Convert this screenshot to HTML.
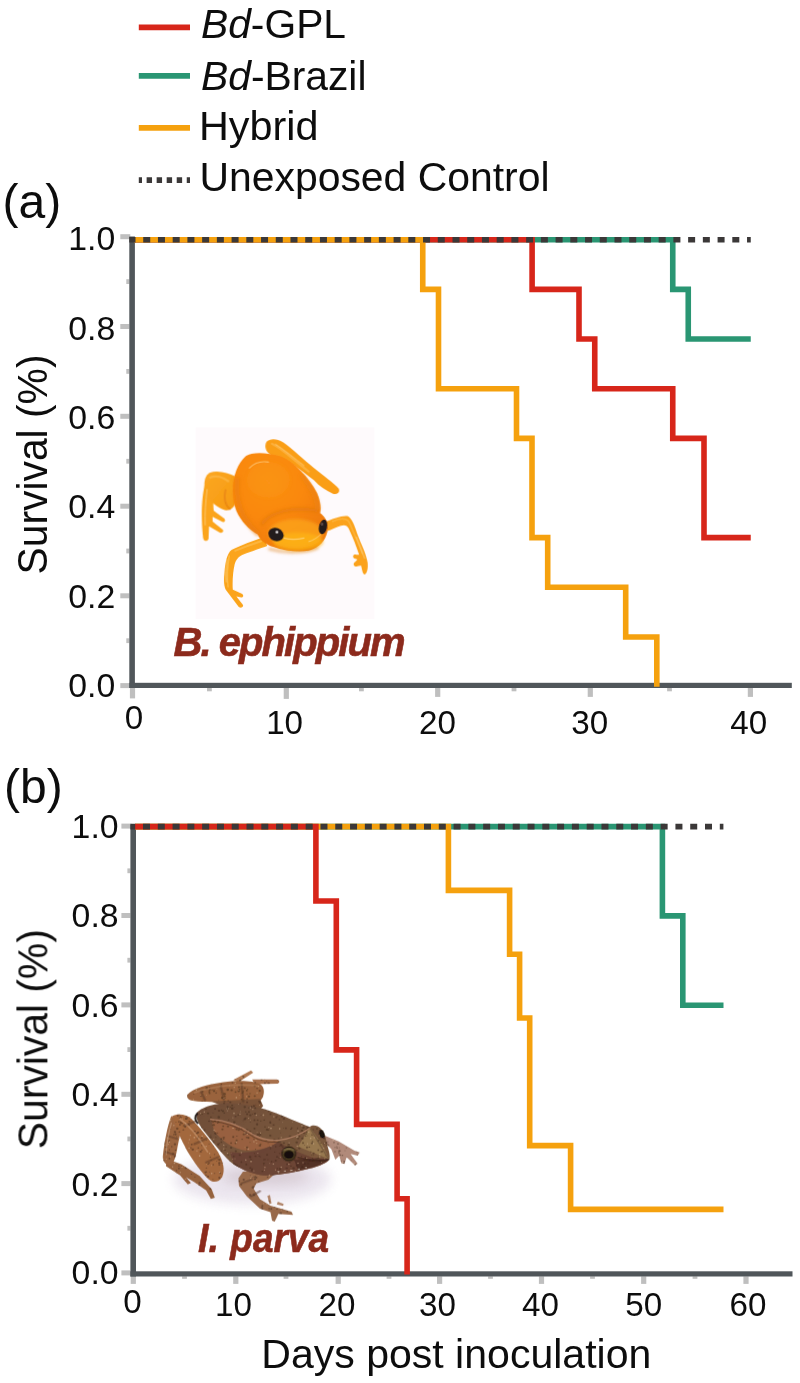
<!DOCTYPE html>
<html><head><meta charset="utf-8"><title>Survival curves</title>
<style>html,body{margin:0;padding:0;background:#fff}svg{display:block}text{font-family:"Liberation Sans",sans-serif;fill:#0d0d0d}</style></head><body>
<svg width="800" height="1383" viewBox="0 0 800 1383">
<rect width="800" height="1383" fill="#fff"/>
<g style="opacity:0.999">
<defs>
<radialGradient id="f1body" cx="0.38" cy="0.30" r="0.75">
<stop offset="0" stop-color="#FB9012"/><stop offset="0.5" stop-color="#FA880E"/><stop offset="1" stop-color="#EE7A08"/>
</radialGradient>
<linearGradient id="f1leg" x1="0" y1="0" x2="1" y2="1">
<stop offset="0" stop-color="#FCA824"/><stop offset="1" stop-color="#F79A10"/>
</linearGradient>
<radialGradient id="f1head" cx="0.5" cy="0.45" r="0.6">
<stop offset="0" stop-color="#FDA52E"/><stop offset="1" stop-color="#F38A12"/>
</radialGradient>
<filter id="f1blur" x="-5%" y="-5%" width="110%" height="110%"><feGaussianBlur stdDeviation="2.2"/></filter>
<filter id="f1soft" x="-10%" y="-10%" width="120%" height="120%"><feGaussianBlur stdDeviation="7"/></filter>
<filter id="bgsoft" x="-5%" y="-5%" width="110%" height="110%"><feGaussianBlur stdDeviation="3"/></filter>
</defs>
<rect x="195.6" y="427.5" width="178.8" height="191.5" fill="#FEFAFC"/>
<g transform="translate(190,430) scale(0.2375)">
<g filter="url(#f1blur)">
<!-- hind right leg -->
<path d="M322 50 C336 34 368 36 392 52 C430 78 480 128 522 160 C560 190 605 224 626 246 C634 262 618 274 602 268 C572 254 545 238 522 212 C495 192 465 168 435 148 C405 128 378 116 348 108 C322 100 310 70 322 50 Z" fill="#FA9E18"/>
<path d="M345 58 C385 75 440 130 500 175" fill="none" stroke="#FDB84A" stroke-width="9" stroke-linecap="round" opacity="0.7"/>
<!-- hind left leg: lower -->
<path d="M62 230 C50 280 45 360 55 455 C58 472 78 470 78 455 L80 405 L125 432 C140 436 145 422 133 416 L95 385 L95 365 L138 388 C150 388 150 375 140 370 L100 340 C95 310 100 280 110 255 Z" fill="#FBA41A"/>
<!-- thigh -->
<path d="M190 195 C160 180 115 168 82 180 C58 195 55 235 68 268 C82 300 115 330 150 338 C175 340 190 320 195 295 Z" fill="url(#f1leg)"/>
<path d="M85 200 C110 190 140 200 160 215" fill="none" stroke="#FDBC50" stroke-width="10" stroke-linecap="round" opacity="0.6"/>
<path d="M150 250 C140 290 150 320 170 335" fill="none" stroke="#E47E10" stroke-width="8" opacity="0.6"/>
<!-- front left arm -->
<path d="M310 450 C270 465 215 485 175 505 C155 520 148 560 145 600 C142 630 142 655 150 672 L205 745 C215 752 228 745 222 735 L195 700 L215 705 C228 705 226 692 215 688 L180 672 C178 640 180 600 188 565 C195 540 210 530 230 522 C260 510 300 498 325 488 Z" fill="#FBA41A"/>
<path d="M165 530 C158 570 155 620 160 660" fill="none" stroke="#FDC050" stroke-width="7" stroke-linecap="round" opacity="0.7"/>
<path d="M190 508 C230 492 270 478 300 468" fill="none" stroke="#FDBE50" stroke-width="8" stroke-linecap="round" opacity="0.7"/>
<!-- front right arm -->
<path d="M572 385 C600 375 635 360 662 362 C680 368 692 400 705 440 C720 480 742 520 748 560 C750 585 745 605 735 608 C725 605 725 585 720 570 L700 575 C688 575 685 562 695 556 L705 545 L690 540 C682 530 690 522 700 525 L712 525 C700 490 685 450 668 415 C660 400 650 398 635 403 C615 410 595 420 578 425 Z" fill="#FBA21A"/>
<path d="M600 385 C630 372 655 370 668 385 C685 420 705 470 725 520" fill="none" stroke="#FDBB4A" stroke-width="7" stroke-linecap="round" opacity="0.65"/>
<!-- body -->
<path d="M235 110 C260 92 320 92 385 112 C440 135 500 200 535 265 C550 300 552 330 548 350 C570 365 585 395 578 430 C570 465 545 495 500 508 C460 515 400 510 350 492 C320 482 295 465 285 440 C250 420 215 385 195 340 C175 290 175 220 195 170 C205 145 218 125 235 110 Z" fill="url(#f1body)"/>
</g>
<!-- body shading -->
<g filter="url(#f1soft)">
<path d="M200 200 C190 280 210 370 290 440" fill="none" stroke="#E77E10" stroke-width="22" opacity="0.55"/>
<path d="M300 400 C330 350 420 320 540 340" fill="none" stroke="#DE760E" stroke-width="16" opacity="0.55"/>
<path d="M470 190 C510 240 535 290 540 335" fill="none" stroke="#E98414" stroke-width="20" opacity="0.5"/>
<ellipse cx="330" cy="210" rx="90" ry="75" fill="#FC9A22" opacity="0.3"/>
<ellipse cx="445" cy="435" rx="115" ry="60" fill="#FCA61E" opacity="0.75"/>
<ellipse cx="455" cy="470" rx="105" ry="38" fill="#FDB416" opacity="0.75"/>
<path d="M330 500 C400 520 480 520 540 495" fill="none" stroke="#D97410" stroke-width="10" opacity="0.5"/>
</g>
<g filter="url(#f1blur)" fill="none" stroke="#FFE9B8" stroke-linecap="round" opacity="0.55">
<path d="M250 160 C270 140 300 130 330 135" stroke-width="5"/>
<path d="M395 455 C420 462 450 462 480 455" stroke-width="5"/>
<path d="M155 545 C152 580 150 610 153 640" stroke-width="4"/>
<path d="M700 450 C712 480 725 510 735 540" stroke-width="4"/>
<path d="M72 250 C66 300 62 350 64 400" stroke-width="4"/>
<path d="M360 60 C400 85 440 120 480 150" stroke-width="4"/>
<path d="M500 470 C520 465 540 450 550 440" stroke-width="4"/>
</g>
<!-- eyes -->
<g filter="url(#f1blur)">
<ellipse cx="362" cy="440" rx="33" ry="27" transform="rotate(22 362 440)" fill="#231A1C"/>
<ellipse cx="560" cy="408" rx="17" ry="31" transform="rotate(12 560 408)" fill="#231A1C"/>
<ellipse cx="366" cy="430" rx="6" ry="6" fill="#ffffff" opacity="0.85"/>
<ellipse cx="556" cy="396" rx="5" ry="7" fill="#6b5a55" opacity="0.8"/>
</g>
</g>
<defs>
<filter id="f2blur" x="-5%" y="-5%" width="110%" height="110%"><feGaussianBlur stdDeviation="1.8"/></filter>
<filter id="f2b1" x="-5%" y="-5%" width="110%" height="110%"><feGaussianBlur stdDeviation="1.3"/></filter>
<filter id="f2shadow" x="-20%" y="-40%" width="140%" height="180%"><feGaussianBlur stdDeviation="22"/></filter>
<linearGradient id="f2dors" x1="0" y1="0" x2="1" y2="1"><stop offset="0" stop-color="#6F4D38"/><stop offset="1" stop-color="#7E5C3E"/></linearGradient>
<clipPath id="f2clip">
<path d="M640 285 L700 310 L760 345 L780 352 L772 364 L745 358 L772 395 L762 402 L730 370 L722 396 L710 393 L702 364 L687 380 L672 340 L645 312 Z"/>
<path d="M298 76 L366 40 L374 48 L318 84 Z"/>
<path d="M370 74 L462 74 C476 74 478 90 464 90 L380 92 Z"/>
<path d="M125 130 C140 110 200 92 260 84 C320 76 375 78 402 92 C420 105 418 135 404 152 C385 168 335 168 280 162 C220 160 165 160 138 154 C122 148 120 138 125 130 Z"/>
<path d="M42 376 L100 397 L170 442 L216 492 L228 524 L213 529 L195 497 L150 465 L118 446 L137 468 L125 474 L96 440 L42 404 Z"/>
<path d="M62 213 C48 250 36 310 30 365 C28 385 40 400 58 400 C72 394 80 370 86 330 C92 300 98 275 104 252 Z"/>
<path d="M65 215 C85 202 120 206 140 225 C170 255 210 305 240 350 C260 385 268 420 256 445 C245 465 222 470 205 455 C180 432 150 392 122 345 C100 305 80 260 65 215 Z"/>
<path d="M335 425 L400 418 L452 438 L432 456 L386 470 L376 490 L400 530 L440 555 L520 578 L526 590 L470 586 L456 616 L446 612 L440 580 L400 566 L350 520 L320 480 L318 450 Z"/>
<path d="M428 518 L436 548 L444 546 L438 514 Z M468 540 L490 548 L488 556 L464 550 Z"/>
<path d="M215 158 L400 148 L412 175 L400 190 L250 172 Z"/>
<path d="M160 200 C175 182 215 168 260 165 C320 162 385 175 440 195 C490 212 545 238 590 255 C600 246 618 248 632 262 C646 276 652 300 658 330 C664 350 668 368 664 378 C655 395 615 408 570 418 C520 430 465 440 420 440 C380 438 335 420 300 398 C265 370 230 325 198 285 C175 258 150 225 160 200 Z"/>
</clipPath></defs>
<g transform="translate(155,1060) scale(0.2625)">
<ellipse cx="370" cy="455" rx="300" ry="95" fill="#E6DFEA" opacity="0.8" filter="url(#f2shadow)"/>
<ellipse cx="420" cy="445" rx="170" ry="30" fill="#C9BAC2" opacity="0.6" filter="url(#f2shadow)"/>
<g filter="url(#f2b1)">
<path d="M640 285 L700 310 L760 345 L780 352 L772 364 L745 358 L772 395 L762 402 L730 370 L722 396 L710 393 L702 364 L687 380 L672 340 L645 312 Z" fill="#B18A7A"/>
<path d="M298 76 L366 40 L374 48 L318 84 Z" fill="#B07A52"/>
<path d="M370 74 L462 74 C476 74 478 90 464 90 L380 92 Z" fill="#A8704C"/>
<path d="M125 130 C140 110 200 92 260 84 C320 76 375 78 402 92 C420 105 418 135 404 152 C385 168 335 168 280 162 C220 160 165 160 138 154 C122 148 120 138 125 130 Z" fill="#9A643C"/>
<path d="M42 376 L100 397 L170 442 L216 492 L228 524 L213 529 L195 497 L150 465 L118 446 L137 468 L125 474 L96 440 L42 404 Z" fill="#96623E"/>
<path d="M62 213 C48 250 36 310 30 365 C28 385 40 400 58 400 C72 394 80 370 86 330 C92 300 98 275 104 252 Z" fill="#9C6640"/>
<path d="M65 215 C85 202 120 206 140 225 C170 255 210 305 240 350 C260 385 268 420 256 445 C245 465 222 470 205 455 C180 432 150 392 122 345 C100 305 80 260 65 215 Z" fill="#A3683E"/>
<path d="M335 425 L400 418 L452 438 L432 456 L386 470 L376 490 L400 530 L440 555 L520 578 L526 590 L470 586 L456 616 L446 612 L440 580 L400 566 L350 520 L320 480 L318 450 Z" fill="#98694A"/>
<path d="M428 518 L436 548 L444 546 L438 514 Z M468 540 L490 548 L488 556 L464 550 Z" fill="#B08468"/>
<path d="M215 158 L400 148 L412 175 L400 190 L250 172 Z" fill="#7A5238"/>
<path d="M160 200 C175 182 215 168 260 165 C320 162 385 175 440 195 C490 212 545 238 590 255 C600 246 618 248 632 262 C646 276 652 300 658 330 C664 350 668 368 664 378 C655 395 615 408 570 418 C520 430 465 440 420 440 C380 438 335 420 300 398 C265 370 230 325 198 285 C175 258 150 225 160 200 Z" fill="url(#f2dors)"/>
<path d="M215 228 C260 230 320 245 375 285 C400 300 430 308 470 308 C450 330 400 345 350 345 C300 340 255 310 225 270 Z" fill="#9C6340" opacity="0.9"/>
<path d="M285 350 C340 360 420 345 470 312 C500 330 540 350 600 372 L664 378 C655 395 615 408 570 418 C520 430 465 440 420 440 C380 438 335 420 300 398 Z" fill="#6A4234" opacity="0.92"/>
<path d="M530 380 C570 375 620 378 660 380 C640 400 590 412 545 420 Z" fill="#4E2C22" opacity="0.8"/>
<path d="M590 256 L636 320 L664 378 L600 352 L545 330 Z" fill="#97784F"/>
<g clip-path="url(#f2clip)">
<g fill="#3E281A" opacity="0.5"><ellipse cx="497" cy="470" rx="4.4" ry="4.3"/><ellipse cx="585" cy="575" rx="2.1" ry="1.6"/><ellipse cx="738" cy="416" rx="4.7" ry="3.0"/><ellipse cx="382" cy="183" rx="3.6" ry="3.0"/><ellipse cx="40" cy="166" rx="2.8" ry="2.7"/><ellipse cx="604" cy="133" rx="4.4" ry="2.9"/><ellipse cx="493" cy="113" rx="2.0" ry="1.9"/><ellipse cx="187" cy="165" rx="4.9" ry="4.7"/><ellipse cx="247" cy="598" rx="3.6" ry="3.2"/><ellipse cx="184" cy="586" rx="4.1" ry="4.0"/><ellipse cx="700" cy="213" rx="3.1" ry="2.1"/><ellipse cx="139" cy="78" rx="2.9" ry="2.4"/><ellipse cx="33" cy="433" rx="3.0" ry="2.2"/><ellipse cx="644" cy="319" rx="2.9" ry="2.3"/><ellipse cx="559" cy="73" rx="4.9" ry="3.0"/><ellipse cx="592" cy="530" rx="2.1" ry="1.9"/><ellipse cx="305" cy="376" rx="2.0" ry="1.3"/><ellipse cx="166" cy="594" rx="2.6" ry="2.3"/><ellipse cx="727" cy="586" rx="3.0" ry="2.3"/><ellipse cx="424" cy="490" rx="2.3" ry="2.1"/><ellipse cx="628" cy="539" rx="2.1" ry="2.1"/><ellipse cx="98" cy="238" rx="3.8" ry="3.7"/><ellipse cx="285" cy="576" rx="3.6" ry="2.6"/><ellipse cx="268" cy="143" rx="2.2" ry="1.5"/><ellipse cx="547" cy="618" rx="2.5" ry="1.5"/><ellipse cx="770" cy="349" rx="3.2" ry="2.2"/><ellipse cx="475" cy="519" rx="3.4" ry="2.6"/><ellipse cx="72" cy="571" rx="2.1" ry="1.7"/><ellipse cx="659" cy="116" rx="4.2" ry="4.1"/><ellipse cx="503" cy="497" rx="2.3" ry="1.8"/><ellipse cx="142" cy="530" rx="2.9" ry="2.3"/><ellipse cx="779" cy="534" rx="4.9" ry="3.9"/><ellipse cx="396" cy="463" rx="3.4" ry="2.5"/><ellipse cx="333" cy="125" rx="3.1" ry="3.1"/><ellipse cx="750" cy="404" rx="3.5" ry="2.6"/><ellipse cx="97" cy="198" rx="4.3" ry="4.1"/><ellipse cx="301" cy="496" rx="4.3" ry="3.8"/><ellipse cx="528" cy="481" rx="3.1" ry="2.7"/><ellipse cx="241" cy="322" rx="4.3" ry="3.8"/><ellipse cx="250" cy="588" rx="3.9" ry="3.3"/><ellipse cx="39" cy="357" rx="2.8" ry="2.4"/><ellipse cx="377" cy="514" rx="3.9" ry="3.6"/><ellipse cx="291" cy="414" rx="4.2" ry="3.9"/><ellipse cx="293" cy="529" rx="4.6" ry="4.0"/><ellipse cx="762" cy="595" rx="3.6" ry="2.9"/><ellipse cx="155" cy="525" rx="4.8" ry="3.8"/><ellipse cx="549" cy="457" rx="4.2" ry="2.8"/><ellipse cx="615" cy="377" rx="4.0" ry="3.1"/><ellipse cx="498" cy="489" rx="3.9" ry="3.5"/><ellipse cx="51" cy="133" rx="3.3" ry="2.9"/><ellipse cx="194" cy="438" rx="3.9" ry="2.4"/><ellipse cx="384" cy="171" rx="2.2" ry="1.4"/><ellipse cx="268" cy="145" rx="2.6" ry="1.6"/><ellipse cx="379" cy="261" rx="3.8" ry="3.2"/><ellipse cx="208" cy="564" rx="2.0" ry="1.5"/><ellipse cx="239" cy="278" rx="2.3" ry="2.2"/><ellipse cx="310" cy="61" rx="3.8" ry="2.5"/><ellipse cx="439" cy="237" rx="3.7" ry="3.7"/><ellipse cx="644" cy="283" rx="4.4" ry="3.8"/><ellipse cx="307" cy="122" rx="3.8" ry="3.1"/><ellipse cx="748" cy="601" rx="3.8" ry="2.8"/><ellipse cx="700" cy="41" rx="2.3" ry="1.9"/><ellipse cx="491" cy="122" rx="3.9" ry="3.7"/><ellipse cx="312" cy="290" rx="2.7" ry="1.9"/><ellipse cx="759" cy="260" rx="4.9" ry="4.7"/><ellipse cx="477" cy="191" rx="4.9" ry="3.9"/><ellipse cx="342" cy="225" rx="5.0" ry="3.9"/><ellipse cx="245" cy="317" rx="2.4" ry="2.0"/><ellipse cx="363" cy="210" rx="4.3" ry="4.0"/><ellipse cx="40" cy="349" rx="2.8" ry="2.7"/><ellipse cx="616" cy="182" rx="2.8" ry="1.9"/><ellipse cx="772" cy="210" rx="3.8" ry="3.0"/><ellipse cx="514" cy="390" rx="4.2" ry="2.7"/><ellipse cx="600" cy="214" rx="3.6" ry="2.6"/><ellipse cx="253" cy="347" rx="3.4" ry="2.5"/><ellipse cx="589" cy="383" rx="2.1" ry="1.5"/><ellipse cx="372" cy="572" rx="4.7" ry="3.8"/><ellipse cx="41" cy="491" rx="3.3" ry="2.7"/><ellipse cx="561" cy="407" rx="3.4" ry="3.3"/><ellipse cx="319" cy="267" rx="4.6" ry="3.1"/><ellipse cx="252" cy="521" rx="2.2" ry="2.1"/><ellipse cx="551" cy="291" rx="2.9" ry="2.6"/><ellipse cx="713" cy="123" rx="3.4" ry="2.8"/><ellipse cx="403" cy="232" rx="2.5" ry="2.1"/><ellipse cx="639" cy="80" rx="2.7" ry="2.5"/><ellipse cx="624" cy="425" rx="2.1" ry="1.8"/><ellipse cx="764" cy="619" rx="4.1" ry="2.5"/><ellipse cx="662" cy="167" rx="3.9" ry="3.9"/><ellipse cx="564" cy="118" rx="2.9" ry="2.8"/><ellipse cx="142" cy="394" rx="3.2" ry="2.2"/><ellipse cx="497" cy="65" rx="2.3" ry="1.7"/><ellipse cx="84" cy="73" rx="3.7" ry="3.3"/><ellipse cx="689" cy="118" rx="3.3" ry="2.4"/><ellipse cx="480" cy="324" rx="4.8" ry="3.6"/><ellipse cx="72" cy="444" rx="2.5" ry="2.1"/><ellipse cx="409" cy="568" rx="3.7" ry="3.1"/><ellipse cx="227" cy="360" rx="2.8" ry="2.5"/><ellipse cx="418" cy="118" rx="2.7" ry="2.0"/><ellipse cx="583" cy="144" rx="4.1" ry="3.6"/><ellipse cx="94" cy="427" rx="2.3" ry="1.5"/><ellipse cx="475" cy="178" rx="4.6" ry="3.7"/><ellipse cx="272" cy="502" rx="2.1" ry="1.9"/><ellipse cx="70" cy="127" rx="4.9" ry="4.2"/><ellipse cx="197" cy="107" rx="4.9" ry="4.3"/><ellipse cx="645" cy="121" rx="3.9" ry="2.9"/><ellipse cx="206" cy="233" rx="3.8" ry="2.8"/><ellipse cx="319" cy="119" rx="4.5" ry="3.9"/><ellipse cx="633" cy="291" rx="4.6" ry="3.7"/><ellipse cx="474" cy="372" rx="4.2" ry="3.2"/><ellipse cx="103" cy="59" rx="2.6" ry="1.6"/><ellipse cx="697" cy="319" rx="4.3" ry="2.6"/><ellipse cx="383" cy="556" rx="3.9" ry="3.0"/><ellipse cx="379" cy="98" rx="2.5" ry="1.6"/><ellipse cx="311" cy="264" rx="4.6" ry="3.1"/><ellipse cx="221" cy="201" rx="2.5" ry="1.8"/><ellipse cx="206" cy="320" rx="2.1" ry="2.0"/><ellipse cx="307" cy="584" rx="4.1" ry="3.5"/><ellipse cx="384" cy="588" rx="2.4" ry="2.0"/><ellipse cx="248" cy="431" rx="4.2" ry="2.8"/><ellipse cx="181" cy="54" rx="2.7" ry="1.7"/><ellipse cx="331" cy="605" rx="3.1" ry="2.2"/><ellipse cx="381" cy="204" rx="4.2" ry="3.7"/><ellipse cx="153" cy="180" rx="4.0" ry="3.9"/><ellipse cx="514" cy="290" rx="4.9" ry="3.0"/><ellipse cx="76" cy="492" rx="3.2" ry="2.0"/><ellipse cx="441" cy="614" rx="3.6" ry="2.6"/><ellipse cx="100" cy="81" rx="4.7" ry="3.7"/><ellipse cx="732" cy="71" rx="2.7" ry="1.7"/><ellipse cx="328" cy="75" rx="2.8" ry="2.1"/><ellipse cx="259" cy="70" rx="2.1" ry="2.1"/><ellipse cx="165" cy="335" rx="3.2" ry="2.6"/><ellipse cx="93" cy="222" rx="2.3" ry="1.9"/><ellipse cx="721" cy="387" rx="4.6" ry="3.1"/><ellipse cx="43" cy="353" rx="3.5" ry="2.9"/><ellipse cx="312" cy="403" rx="4.2" ry="4.0"/><ellipse cx="261" cy="300" rx="4.5" ry="3.1"/><ellipse cx="117" cy="221" rx="2.3" ry="2.1"/><ellipse cx="645" cy="221" rx="2.4" ry="1.5"/><ellipse cx="214" cy="89" rx="3.3" ry="2.7"/><ellipse cx="214" cy="76" rx="4.1" ry="2.5"/><ellipse cx="180" cy="206" rx="3.1" ry="2.0"/><ellipse cx="345" cy="222" rx="4.3" ry="3.5"/><ellipse cx="702" cy="419" rx="4.3" ry="3.6"/><ellipse cx="362" cy="514" rx="4.0" ry="3.9"/><ellipse cx="576" cy="447" rx="2.8" ry="2.6"/><ellipse cx="317" cy="116" rx="2.2" ry="1.5"/><ellipse cx="227" cy="432" rx="2.9" ry="1.8"/><ellipse cx="603" cy="363" rx="2.1" ry="1.3"/><ellipse cx="128" cy="247" rx="4.6" ry="4.5"/><ellipse cx="489" cy="174" rx="3.3" ry="2.4"/><ellipse cx="278" cy="47" rx="3.8" ry="3.5"/><ellipse cx="575" cy="95" rx="3.6" ry="2.4"/><ellipse cx="562" cy="299" rx="4.8" ry="4.4"/><ellipse cx="119" cy="224" rx="4.7" ry="3.7"/><ellipse cx="356" cy="296" rx="4.3" ry="4.2"/><ellipse cx="429" cy="602" rx="3.8" ry="2.4"/><ellipse cx="641" cy="283" rx="2.2" ry="2.1"/><ellipse cx="55" cy="375" rx="3.4" ry="3.3"/><ellipse cx="325" cy="165" rx="2.8" ry="1.9"/><ellipse cx="452" cy="247" rx="4.3" ry="3.0"/><ellipse cx="294" cy="184" rx="4.9" ry="4.6"/><ellipse cx="667" cy="399" rx="3.2" ry="2.1"/><ellipse cx="654" cy="324" rx="2.1" ry="1.4"/><ellipse cx="104" cy="456" rx="4.7" ry="3.2"/><ellipse cx="628" cy="228" rx="4.0" ry="3.8"/><ellipse cx="497" cy="504" rx="3.1" ry="1.9"/><ellipse cx="414" cy="380" rx="2.6" ry="1.9"/><ellipse cx="268" cy="56" rx="2.9" ry="2.2"/><ellipse cx="387" cy="448" rx="3.2" ry="3.2"/><ellipse cx="642" cy="576" rx="4.1" ry="3.5"/><ellipse cx="433" cy="503" rx="3.1" ry="2.6"/><ellipse cx="540" cy="343" rx="2.9" ry="1.8"/><ellipse cx="95" cy="246" rx="3.7" ry="3.4"/><ellipse cx="566" cy="218" rx="4.8" ry="3.4"/><ellipse cx="567" cy="82" rx="4.3" ry="3.7"/><ellipse cx="748" cy="560" rx="4.1" ry="3.8"/><ellipse cx="584" cy="394" rx="2.6" ry="2.1"/><ellipse cx="702" cy="179" rx="4.9" ry="4.0"/><ellipse cx="325" cy="42" rx="3.2" ry="2.1"/><ellipse cx="520" cy="562" rx="4.7" ry="4.0"/><ellipse cx="320" cy="103" rx="4.1" ry="3.3"/><ellipse cx="566" cy="257" rx="4.7" ry="3.2"/><ellipse cx="259" cy="195" rx="3.9" ry="3.7"/><ellipse cx="156" cy="407" rx="4.3" ry="3.0"/><ellipse cx="77" cy="368" rx="4.5" ry="4.3"/><ellipse cx="576" cy="282" rx="3.3" ry="2.7"/><ellipse cx="709" cy="215" rx="2.8" ry="2.4"/><ellipse cx="755" cy="149" rx="2.1" ry="1.4"/><ellipse cx="452" cy="390" rx="2.6" ry="1.7"/><ellipse cx="476" cy="415" rx="4.1" ry="3.6"/><ellipse cx="76" cy="321" rx="4.5" ry="4.4"/><ellipse cx="269" cy="533" rx="3.9" ry="3.8"/><ellipse cx="202" cy="444" rx="4.5" ry="3.6"/><ellipse cx="106" cy="152" rx="2.5" ry="1.6"/><ellipse cx="144" cy="397" rx="2.3" ry="2.1"/><ellipse cx="582" cy="513" rx="4.4" ry="3.9"/><ellipse cx="723" cy="595" rx="3.9" ry="3.8"/><ellipse cx="107" cy="100" rx="2.2" ry="1.5"/><ellipse cx="311" cy="306" rx="4.0" ry="3.6"/><ellipse cx="93" cy="274" rx="3.6" ry="2.7"/><ellipse cx="118" cy="386" rx="3.1" ry="2.7"/><ellipse cx="402" cy="598" rx="4.8" ry="3.0"/><ellipse cx="600" cy="458" rx="2.9" ry="1.9"/><ellipse cx="389" cy="245" rx="4.2" ry="4.1"/><ellipse cx="317" cy="209" rx="3.5" ry="3.1"/><ellipse cx="622" cy="374" rx="2.9" ry="2.1"/><ellipse cx="666" cy="341" rx="2.2" ry="1.7"/><ellipse cx="208" cy="426" rx="2.2" ry="1.6"/><ellipse cx="102" cy="317" rx="5.0" ry="4.0"/><ellipse cx="320" cy="582" rx="2.3" ry="1.7"/><ellipse cx="638" cy="43" rx="4.3" ry="3.2"/><ellipse cx="42" cy="185" rx="3.4" ry="2.5"/><ellipse cx="418" cy="71" rx="2.7" ry="2.6"/><ellipse cx="362" cy="314" rx="2.3" ry="1.6"/><ellipse cx="746" cy="438" rx="3.5" ry="2.2"/><ellipse cx="325" cy="491" rx="3.3" ry="2.8"/><ellipse cx="707" cy="414" rx="3.9" ry="2.4"/><ellipse cx="48" cy="486" rx="3.2" ry="3.1"/><ellipse cx="649" cy="571" rx="3.1" ry="3.1"/><ellipse cx="597" cy="557" rx="2.4" ry="2.2"/><ellipse cx="347" cy="604" rx="5.0" ry="3.4"/><ellipse cx="346" cy="197" rx="3.4" ry="2.4"/><ellipse cx="530" cy="112" rx="2.5" ry="2.0"/><ellipse cx="85" cy="261" rx="4.7" ry="4.5"/><ellipse cx="177" cy="51" rx="4.5" ry="4.4"/><ellipse cx="479" cy="119" rx="2.7" ry="2.6"/><ellipse cx="733" cy="58" rx="2.6" ry="2.0"/><ellipse cx="230" cy="477" rx="3.1" ry="2.8"/><ellipse cx="144" cy="341" rx="4.9" ry="4.3"/><ellipse cx="98" cy="104" rx="3.9" ry="2.9"/><ellipse cx="307" cy="317" rx="3.7" ry="3.7"/><ellipse cx="211" cy="370" rx="2.8" ry="2.3"/><ellipse cx="579" cy="117" rx="3.4" ry="3.0"/><ellipse cx="36" cy="487" rx="3.3" ry="2.6"/><ellipse cx="488" cy="500" rx="2.2" ry="1.7"/><ellipse cx="59" cy="264" rx="3.0" ry="1.8"/><ellipse cx="253" cy="301" rx="4.0" ry="3.8"/><ellipse cx="308" cy="347" rx="4.1" ry="4.0"/><ellipse cx="742" cy="613" rx="2.9" ry="1.9"/><ellipse cx="729" cy="85" rx="3.3" ry="3.0"/><ellipse cx="427" cy="265" rx="4.8" ry="3.4"/><ellipse cx="444" cy="521" rx="2.4" ry="1.8"/><ellipse cx="401" cy="368" rx="2.6" ry="2.0"/><ellipse cx="75" cy="91" rx="3.0" ry="2.0"/><ellipse cx="756" cy="193" rx="2.8" ry="2.6"/><ellipse cx="586" cy="192" rx="4.5" ry="3.8"/><ellipse cx="321" cy="405" rx="2.7" ry="1.9"/><ellipse cx="687" cy="294" rx="4.7" ry="3.1"/><ellipse cx="133" cy="70" rx="4.2" ry="3.5"/><ellipse cx="37" cy="65" rx="4.5" ry="3.6"/><ellipse cx="683" cy="63" rx="3.8" ry="2.4"/><ellipse cx="571" cy="395" rx="3.8" ry="2.6"/><ellipse cx="742" cy="104" rx="2.2" ry="1.9"/><ellipse cx="100" cy="79" rx="3.4" ry="2.9"/><ellipse cx="699" cy="458" rx="2.2" ry="1.9"/><ellipse cx="663" cy="110" rx="4.3" ry="3.0"/><ellipse cx="254" cy="41" rx="4.3" ry="3.4"/><ellipse cx="706" cy="310" rx="2.5" ry="1.7"/><ellipse cx="228" cy="589" rx="2.6" ry="1.7"/><ellipse cx="295" cy="86" rx="3.3" ry="2.8"/><ellipse cx="518" cy="141" rx="2.4" ry="1.9"/><ellipse cx="545" cy="299" rx="3.7" ry="3.6"/><ellipse cx="139" cy="195" rx="3.5" ry="2.8"/><ellipse cx="705" cy="362" rx="4.0" ry="3.1"/><ellipse cx="618" cy="525" rx="2.9" ry="1.9"/><ellipse cx="224" cy="247" rx="4.7" ry="3.3"/><ellipse cx="502" cy="412" rx="4.9" ry="3.1"/><ellipse cx="607" cy="235" rx="2.3" ry="2.0"/><ellipse cx="663" cy="378" rx="2.1" ry="2.1"/><ellipse cx="318" cy="409" rx="4.2" ry="2.9"/><ellipse cx="336" cy="231" rx="2.3" ry="1.4"/><ellipse cx="568" cy="278" rx="4.6" ry="2.9"/><ellipse cx="256" cy="144" rx="4.8" ry="4.4"/><ellipse cx="702" cy="334" rx="2.3" ry="1.8"/><ellipse cx="200" cy="56" rx="3.7" ry="2.6"/><ellipse cx="111" cy="337" rx="4.8" ry="4.7"/><ellipse cx="380" cy="100" rx="4.3" ry="2.8"/><ellipse cx="433" cy="89" rx="5.0" ry="4.1"/><ellipse cx="358" cy="198" rx="3.7" ry="3.6"/><ellipse cx="351" cy="161" rx="3.5" ry="3.4"/><ellipse cx="316" cy="408" rx="4.8" ry="3.5"/><ellipse cx="638" cy="347" rx="2.4" ry="1.5"/><ellipse cx="734" cy="310" rx="3.3" ry="3.2"/><ellipse cx="460" cy="330" rx="2.9" ry="2.6"/><ellipse cx="222" cy="313" rx="4.3" ry="3.6"/><ellipse cx="131" cy="158" rx="4.1" ry="3.6"/><ellipse cx="107" cy="619" rx="2.4" ry="1.6"/><ellipse cx="97" cy="299" rx="3.9" ry="3.6"/><ellipse cx="152" cy="445" rx="2.3" ry="1.9"/><ellipse cx="219" cy="247" rx="2.2" ry="1.9"/><ellipse cx="122" cy="483" rx="3.0" ry="2.5"/><ellipse cx="509" cy="323" rx="4.6" ry="4.5"/><ellipse cx="242" cy="234" rx="4.6" ry="3.0"/><ellipse cx="345" cy="280" rx="4.9" ry="3.2"/><ellipse cx="521" cy="479" rx="4.2" ry="2.5"/><ellipse cx="738" cy="221" rx="4.6" ry="3.9"/><ellipse cx="346" cy="526" rx="4.0" ry="3.0"/><ellipse cx="579" cy="333" rx="4.1" ry="3.5"/><ellipse cx="627" cy="132" rx="3.5" ry="2.1"/><ellipse cx="623" cy="487" rx="4.5" ry="2.8"/><ellipse cx="431" cy="318" rx="2.4" ry="1.6"/><ellipse cx="761" cy="535" rx="2.7" ry="2.5"/><ellipse cx="518" cy="263" rx="3.9" ry="2.7"/><ellipse cx="235" cy="46" rx="4.0" ry="3.3"/><ellipse cx="588" cy="332" rx="3.3" ry="2.4"/><ellipse cx="581" cy="256" rx="3.8" ry="3.4"/><ellipse cx="363" cy="438" rx="2.2" ry="1.5"/><ellipse cx="660" cy="126" rx="2.2" ry="1.3"/><ellipse cx="605" cy="102" rx="3.4" ry="2.6"/><ellipse cx="632" cy="316" rx="3.6" ry="2.2"/><ellipse cx="626" cy="485" rx="3.9" ry="3.6"/><ellipse cx="491" cy="455" rx="4.6" ry="3.9"/><ellipse cx="45" cy="553" rx="5.0" ry="3.4"/><ellipse cx="80" cy="237" rx="2.3" ry="1.7"/><ellipse cx="97" cy="168" rx="2.0" ry="1.6"/><ellipse cx="255" cy="463" rx="3.2" ry="2.1"/><ellipse cx="745" cy="559" rx="4.1" ry="2.8"/><ellipse cx="332" cy="302" rx="3.2" ry="2.0"/><ellipse cx="372" cy="485" rx="4.1" ry="3.9"/><ellipse cx="542" cy="482" rx="4.6" ry="4.5"/><ellipse cx="625" cy="281" rx="4.0" ry="3.4"/><ellipse cx="692" cy="454" rx="3.3" ry="2.3"/><ellipse cx="276" cy="185" rx="4.0" ry="3.7"/><ellipse cx="174" cy="349" rx="4.5" ry="3.4"/><ellipse cx="101" cy="391" rx="3.1" ry="2.0"/><ellipse cx="246" cy="44" rx="2.4" ry="1.9"/><ellipse cx="109" cy="43" rx="3.6" ry="3.6"/><ellipse cx="656" cy="229" rx="4.8" ry="3.0"/><ellipse cx="143" cy="44" rx="2.2" ry="1.8"/><ellipse cx="598" cy="317" rx="4.4" ry="3.4"/><ellipse cx="719" cy="393" rx="3.6" ry="2.4"/><ellipse cx="350" cy="295" rx="4.5" ry="3.1"/><ellipse cx="251" cy="514" rx="2.2" ry="1.8"/><ellipse cx="195" cy="426" rx="3.8" ry="2.4"/><ellipse cx="578" cy="276" rx="3.0" ry="2.8"/><ellipse cx="614" cy="220" rx="4.0" ry="2.6"/><ellipse cx="419" cy="88" rx="3.9" ry="3.8"/><ellipse cx="507" cy="64" rx="3.5" ry="2.8"/><ellipse cx="362" cy="128" rx="2.8" ry="2.2"/><ellipse cx="83" cy="431" rx="2.7" ry="2.0"/><ellipse cx="98" cy="216" rx="4.8" ry="3.4"/><ellipse cx="102" cy="241" rx="4.8" ry="3.1"/><ellipse cx="287" cy="161" rx="4.0" ry="3.2"/><ellipse cx="104" cy="540" rx="3.0" ry="2.6"/><ellipse cx="370" cy="546" rx="2.2" ry="1.5"/><ellipse cx="244" cy="193" rx="4.5" ry="3.6"/><ellipse cx="290" cy="334" rx="4.5" ry="3.8"/><ellipse cx="369" cy="421" rx="3.8" ry="2.9"/><ellipse cx="350" cy="116" rx="3.3" ry="3.2"/><ellipse cx="260" cy="252" rx="3.8" ry="3.2"/><ellipse cx="162" cy="299" rx="4.2" ry="2.6"/><ellipse cx="112" cy="478" rx="4.7" ry="3.0"/><ellipse cx="91" cy="403" rx="2.9" ry="2.5"/><ellipse cx="56" cy="305" rx="2.5" ry="1.8"/><ellipse cx="550" cy="336" rx="4.6" ry="4.3"/><ellipse cx="495" cy="532" rx="2.5" ry="2.0"/><ellipse cx="270" cy="402" rx="2.3" ry="2.2"/><ellipse cx="308" cy="495" rx="4.8" ry="4.7"/><ellipse cx="323" cy="537" rx="5.0" ry="3.3"/><ellipse cx="591" cy="462" rx="3.4" ry="2.4"/><ellipse cx="160" cy="279" rx="4.8" ry="3.6"/><ellipse cx="222" cy="399" rx="3.3" ry="2.8"/><ellipse cx="371" cy="206" rx="2.1" ry="2.0"/><ellipse cx="524" cy="181" rx="3.5" ry="2.9"/><ellipse cx="408" cy="563" rx="4.3" ry="3.1"/><ellipse cx="284" cy="395" rx="2.5" ry="2.4"/><ellipse cx="64" cy="330" rx="2.8" ry="2.3"/><ellipse cx="64" cy="170" rx="5.0" ry="4.5"/><ellipse cx="196" cy="305" rx="2.1" ry="1.4"/><ellipse cx="174" cy="611" rx="2.9" ry="2.1"/><ellipse cx="79" cy="104" rx="5.0" ry="4.5"/><ellipse cx="720" cy="525" rx="4.3" ry="3.1"/><ellipse cx="157" cy="197" rx="2.2" ry="1.5"/><ellipse cx="570" cy="325" rx="2.0" ry="1.5"/><ellipse cx="667" cy="534" rx="4.2" ry="3.7"/><ellipse cx="714" cy="363" rx="3.1" ry="2.6"/><ellipse cx="242" cy="61" rx="2.8" ry="2.2"/><ellipse cx="120" cy="87" rx="2.7" ry="2.0"/><ellipse cx="748" cy="322" rx="4.5" ry="4.0"/><ellipse cx="474" cy="227" rx="3.2" ry="2.3"/><ellipse cx="506" cy="536" rx="4.4" ry="3.1"/><ellipse cx="142" cy="45" rx="3.8" ry="2.6"/><ellipse cx="34" cy="215" rx="2.7" ry="1.8"/><ellipse cx="528" cy="379" rx="2.8" ry="2.5"/><ellipse cx="185" cy="574" rx="2.4" ry="2.0"/><ellipse cx="559" cy="465" rx="3.5" ry="3.3"/><ellipse cx="502" cy="441" rx="2.2" ry="1.5"/><ellipse cx="379" cy="356" rx="2.3" ry="2.0"/><ellipse cx="290" cy="316" rx="3.6" ry="3.3"/><ellipse cx="257" cy="365" rx="3.8" ry="3.3"/><ellipse cx="264" cy="202" rx="3.4" ry="2.9"/><ellipse cx="514" cy="118" rx="3.3" ry="2.8"/><ellipse cx="176" cy="99" rx="4.8" ry="2.9"/><ellipse cx="404" cy="211" rx="2.1" ry="1.5"/><ellipse cx="151" cy="272" rx="4.7" ry="3.0"/><ellipse cx="294" cy="443" rx="3.9" ry="2.4"/><ellipse cx="202" cy="203" rx="4.7" ry="3.6"/><ellipse cx="223" cy="319" rx="3.5" ry="2.3"/><ellipse cx="530" cy="458" rx="3.4" ry="2.8"/><ellipse cx="608" cy="595" rx="3.8" ry="2.4"/><ellipse cx="409" cy="424" rx="3.0" ry="2.6"/><ellipse cx="306" cy="398" rx="3.8" ry="3.3"/><ellipse cx="724" cy="451" rx="4.1" ry="3.6"/><ellipse cx="203" cy="396" rx="3.9" ry="2.4"/><ellipse cx="596" cy="172" rx="3.5" ry="2.8"/><ellipse cx="572" cy="484" rx="3.4" ry="3.3"/><ellipse cx="362" cy="369" rx="5.0" ry="3.6"/><ellipse cx="566" cy="595" rx="2.3" ry="2.1"/><ellipse cx="519" cy="353" rx="4.4" ry="4.1"/><ellipse cx="140" cy="322" rx="3.8" ry="3.4"/><ellipse cx="749" cy="506" rx="4.5" ry="2.8"/><ellipse cx="350" cy="570" rx="4.8" ry="4.4"/><ellipse cx="280" cy="486" rx="3.6" ry="3.1"/><ellipse cx="508" cy="542" rx="4.1" ry="4.1"/><ellipse cx="400" cy="326" rx="4.0" ry="3.3"/><ellipse cx="67" cy="596" rx="3.0" ry="2.4"/><ellipse cx="62" cy="150" rx="4.8" ry="3.4"/><ellipse cx="254" cy="511" rx="2.7" ry="2.4"/><ellipse cx="456" cy="560" rx="3.4" ry="2.5"/><ellipse cx="224" cy="251" rx="2.0" ry="1.3"/><ellipse cx="142" cy="222" rx="4.3" ry="4.2"/><ellipse cx="296" cy="185" rx="2.9" ry="2.5"/><ellipse cx="389" cy="108" rx="3.6" ry="2.5"/><ellipse cx="138" cy="495" rx="2.3" ry="1.8"/><ellipse cx="604" cy="355" rx="4.6" ry="3.4"/><ellipse cx="740" cy="65" rx="4.7" ry="3.6"/><ellipse cx="32" cy="190" rx="5.0" ry="4.4"/><ellipse cx="583" cy="510" rx="2.0" ry="1.5"/><ellipse cx="379" cy="567" rx="4.7" ry="3.1"/><ellipse cx="771" cy="361" rx="2.9" ry="1.8"/><ellipse cx="350" cy="342" rx="3.4" ry="2.4"/><ellipse cx="741" cy="316" rx="2.9" ry="2.7"/><ellipse cx="213" cy="285" rx="2.3" ry="1.6"/><ellipse cx="778" cy="400" rx="3.6" ry="3.1"/><ellipse cx="534" cy="342" rx="3.1" ry="2.0"/><ellipse cx="52" cy="110" rx="3.2" ry="1.9"/><ellipse cx="536" cy="236" rx="2.7" ry="2.0"/><ellipse cx="400" cy="162" rx="4.6" ry="3.6"/><ellipse cx="81" cy="89" rx="4.7" ry="3.9"/><ellipse cx="248" cy="454" rx="2.1" ry="2.0"/><ellipse cx="732" cy="425" rx="2.2" ry="1.7"/><ellipse cx="658" cy="384" rx="2.6" ry="1.8"/><ellipse cx="78" cy="343" rx="2.5" ry="2.0"/><ellipse cx="702" cy="562" rx="3.5" ry="3.2"/><ellipse cx="131" cy="590" rx="4.6" ry="3.6"/><ellipse cx="695" cy="212" rx="4.9" ry="3.6"/><ellipse cx="723" cy="526" rx="4.8" ry="4.3"/><ellipse cx="85" cy="202" rx="4.0" ry="3.8"/><ellipse cx="541" cy="63" rx="3.0" ry="2.2"/><ellipse cx="158" cy="171" rx="3.5" ry="2.7"/><ellipse cx="230" cy="279" rx="4.8" ry="4.1"/><ellipse cx="594" cy="581" rx="2.1" ry="2.0"/><ellipse cx="101" cy="154" rx="4.2" ry="3.8"/><ellipse cx="491" cy="316" rx="4.2" ry="3.2"/><ellipse cx="176" cy="167" rx="2.3" ry="1.4"/><ellipse cx="744" cy="591" rx="3.0" ry="2.3"/><ellipse cx="239" cy="493" rx="3.5" ry="2.3"/><ellipse cx="693" cy="579" rx="2.1" ry="1.7"/><ellipse cx="196" cy="411" rx="3.1" ry="2.2"/><ellipse cx="257" cy="392" rx="3.5" ry="2.8"/><ellipse cx="540" cy="314" rx="4.8" ry="3.8"/><ellipse cx="624" cy="580" rx="3.9" ry="3.2"/><ellipse cx="622" cy="453" rx="2.6" ry="2.0"/><ellipse cx="148" cy="52" rx="4.1" ry="3.0"/><ellipse cx="221" cy="55" rx="2.1" ry="1.8"/><ellipse cx="298" cy="293" rx="4.0" ry="3.9"/><ellipse cx="556" cy="167" rx="5.0" ry="3.3"/><ellipse cx="466" cy="414" rx="2.9" ry="2.7"/><ellipse cx="487" cy="452" rx="2.4" ry="2.3"/><ellipse cx="245" cy="399" rx="4.2" ry="3.1"/><ellipse cx="229" cy="232" rx="4.9" ry="4.3"/><ellipse cx="383" cy="366" rx="4.0" ry="2.8"/><ellipse cx="87" cy="103" rx="3.7" ry="3.1"/><ellipse cx="763" cy="400" rx="4.6" ry="4.5"/><ellipse cx="402" cy="285" rx="3.4" ry="2.6"/><ellipse cx="600" cy="374" rx="2.4" ry="2.3"/><ellipse cx="425" cy="474" rx="3.6" ry="3.0"/><ellipse cx="462" cy="107" rx="2.4" ry="2.1"/><ellipse cx="292" cy="115" rx="4.4" ry="4.0"/><ellipse cx="603" cy="265" rx="2.4" ry="2.2"/><ellipse cx="192" cy="428" rx="4.1" ry="2.9"/><ellipse cx="32" cy="382" rx="4.4" ry="3.7"/><ellipse cx="768" cy="173" rx="4.2" ry="3.2"/><ellipse cx="465" cy="215" rx="2.7" ry="2.2"/><ellipse cx="486" cy="568" rx="3.8" ry="3.0"/><ellipse cx="518" cy="404" rx="3.2" ry="2.3"/><ellipse cx="542" cy="264" rx="2.1" ry="1.4"/><ellipse cx="299" cy="438" rx="4.0" ry="3.2"/><ellipse cx="642" cy="229" rx="3.1" ry="2.7"/><ellipse cx="539" cy="287" rx="4.7" ry="2.9"/><ellipse cx="432" cy="538" rx="4.6" ry="3.1"/><ellipse cx="635" cy="349" rx="4.8" ry="3.5"/><ellipse cx="528" cy="412" rx="5.0" ry="3.7"/><ellipse cx="322" cy="112" rx="4.1" ry="2.5"/><ellipse cx="667" cy="125" rx="2.6" ry="2.5"/><ellipse cx="404" cy="478" rx="3.0" ry="2.1"/><ellipse cx="306" cy="610" rx="2.6" ry="2.5"/><ellipse cx="692" cy="435" rx="2.8" ry="2.5"/><ellipse cx="709" cy="384" rx="2.7" ry="2.2"/><ellipse cx="747" cy="383" rx="2.4" ry="1.7"/><ellipse cx="503" cy="68" rx="2.0" ry="1.5"/><ellipse cx="223" cy="326" rx="2.2" ry="1.8"/><ellipse cx="537" cy="224" rx="3.7" ry="3.0"/><ellipse cx="622" cy="374" rx="3.9" ry="3.2"/><ellipse cx="647" cy="96" rx="2.3" ry="2.2"/><ellipse cx="656" cy="45" rx="4.7" ry="3.9"/><ellipse cx="672" cy="447" rx="3.1" ry="2.0"/><ellipse cx="604" cy="452" rx="3.4" ry="2.4"/><ellipse cx="303" cy="583" rx="3.4" ry="2.3"/><ellipse cx="770" cy="607" rx="2.5" ry="1.7"/><ellipse cx="577" cy="264" rx="3.4" ry="3.0"/><ellipse cx="235" cy="385" rx="2.6" ry="1.8"/><ellipse cx="439" cy="288" rx="4.7" ry="3.1"/><ellipse cx="717" cy="192" rx="3.0" ry="1.9"/><ellipse cx="267" cy="609" rx="3.1" ry="2.9"/><ellipse cx="762" cy="443" rx="2.6" ry="2.0"/><ellipse cx="155" cy="185" rx="3.0" ry="2.0"/><ellipse cx="540" cy="343" rx="2.9" ry="2.0"/><ellipse cx="137" cy="106" rx="3.3" ry="2.1"/><ellipse cx="422" cy="188" rx="4.3" ry="3.1"/><ellipse cx="672" cy="588" rx="4.8" ry="3.3"/><ellipse cx="727" cy="314" rx="4.7" ry="3.7"/><ellipse cx="436" cy="190" rx="4.3" ry="3.2"/><ellipse cx="693" cy="450" rx="3.3" ry="2.0"/><ellipse cx="231" cy="282" rx="3.1" ry="2.6"/><ellipse cx="34" cy="311" rx="4.7" ry="4.6"/><ellipse cx="547" cy="438" rx="3.8" ry="3.8"/><ellipse cx="623" cy="307" rx="3.5" ry="3.4"/><ellipse cx="444" cy="387" rx="2.9" ry="2.5"/><ellipse cx="396" cy="587" rx="5.0" ry="5.0"/><ellipse cx="743" cy="65" rx="2.2" ry="1.6"/><ellipse cx="650" cy="364" rx="2.8" ry="1.8"/><ellipse cx="218" cy="114" rx="2.4" ry="2.2"/><ellipse cx="175" cy="137" rx="3.9" ry="2.5"/><ellipse cx="655" cy="417" rx="4.6" ry="4.1"/><ellipse cx="578" cy="195" rx="3.3" ry="2.5"/><ellipse cx="324" cy="569" rx="3.3" ry="3.0"/><ellipse cx="503" cy="88" rx="2.6" ry="2.2"/><ellipse cx="622" cy="175" rx="2.7" ry="2.1"/><ellipse cx="374" cy="284" rx="4.8" ry="4.0"/><ellipse cx="239" cy="240" rx="3.5" ry="2.3"/><ellipse cx="324" cy="78" rx="4.0" ry="3.8"/><ellipse cx="704" cy="386" rx="3.2" ry="2.6"/><ellipse cx="447" cy="142" rx="3.6" ry="2.9"/><ellipse cx="178" cy="297" rx="4.5" ry="3.9"/><ellipse cx="277" cy="178" rx="3.9" ry="3.2"/><ellipse cx="253" cy="313" rx="3.2" ry="2.7"/><ellipse cx="689" cy="256" rx="3.6" ry="3.0"/><ellipse cx="530" cy="181" rx="2.7" ry="2.7"/><ellipse cx="139" cy="435" rx="2.8" ry="2.2"/><ellipse cx="369" cy="179" rx="2.5" ry="2.5"/><ellipse cx="59" cy="123" rx="4.2" ry="3.2"/><ellipse cx="176" cy="490" rx="4.9" ry="3.4"/><ellipse cx="560" cy="270" rx="5.0" ry="4.2"/><ellipse cx="701" cy="425" rx="2.4" ry="1.9"/><ellipse cx="559" cy="129" rx="2.3" ry="2.3"/><ellipse cx="723" cy="417" rx="2.2" ry="1.9"/><ellipse cx="772" cy="494" rx="4.1" ry="3.2"/><ellipse cx="504" cy="577" rx="3.5" ry="2.2"/><ellipse cx="139" cy="592" rx="4.1" ry="4.0"/><ellipse cx="141" cy="101" rx="4.0" ry="3.1"/><ellipse cx="377" cy="175" rx="4.3" ry="3.9"/><ellipse cx="574" cy="289" rx="3.5" ry="2.6"/><ellipse cx="379" cy="229" rx="3.4" ry="3.4"/><ellipse cx="631" cy="118" rx="4.0" ry="3.7"/><ellipse cx="289" cy="556" rx="4.8" ry="3.0"/><ellipse cx="499" cy="261" rx="3.4" ry="2.8"/><ellipse cx="675" cy="406" rx="4.7" ry="3.3"/><ellipse cx="628" cy="267" rx="2.5" ry="2.3"/><ellipse cx="463" cy="171" rx="4.7" ry="3.7"/><ellipse cx="535" cy="612" rx="3.0" ry="2.4"/><ellipse cx="440" cy="206" rx="3.6" ry="3.6"/><ellipse cx="553" cy="194" rx="4.1" ry="3.4"/><ellipse cx="307" cy="429" rx="3.1" ry="2.9"/><ellipse cx="321" cy="518" rx="2.9" ry="1.9"/><ellipse cx="277" cy="113" rx="4.6" ry="4.6"/><ellipse cx="342" cy="179" rx="4.6" ry="4.4"/><ellipse cx="213" cy="217" rx="3.5" ry="2.3"/><ellipse cx="188" cy="270" rx="2.4" ry="1.6"/><ellipse cx="484" cy="214" rx="4.7" ry="4.7"/><ellipse cx="533" cy="199" rx="4.3" ry="3.1"/><ellipse cx="682" cy="286" rx="4.1" ry="3.7"/><ellipse cx="557" cy="477" rx="3.0" ry="2.0"/><ellipse cx="306" cy="596" rx="2.1" ry="1.5"/><ellipse cx="262" cy="295" rx="4.6" ry="3.1"/><ellipse cx="108" cy="50" rx="3.0" ry="2.7"/><ellipse cx="370" cy="415" rx="3.5" ry="2.6"/><ellipse cx="336" cy="64" rx="4.9" ry="4.3"/><ellipse cx="103" cy="158" rx="4.3" ry="3.5"/><ellipse cx="592" cy="476" rx="2.4" ry="2.3"/><ellipse cx="181" cy="120" rx="4.2" ry="3.9"/><ellipse cx="257" cy="264" rx="4.2" ry="3.0"/><ellipse cx="364" cy="615" rx="2.4" ry="2.3"/><ellipse cx="695" cy="618" rx="2.7" ry="1.9"/><ellipse cx="358" cy="139" rx="4.8" ry="4.0"/><ellipse cx="661" cy="325" rx="3.5" ry="3.4"/><ellipse cx="124" cy="171" rx="4.6" ry="3.8"/><ellipse cx="617" cy="617" rx="4.3" ry="3.6"/><ellipse cx="594" cy="349" rx="2.7" ry="1.9"/><ellipse cx="724" cy="345" rx="2.1" ry="1.8"/><ellipse cx="775" cy="403" rx="3.5" ry="2.7"/><ellipse cx="503" cy="397" rx="3.5" ry="3.3"/><ellipse cx="695" cy="494" rx="4.2" ry="3.7"/><ellipse cx="178" cy="325" rx="2.8" ry="1.9"/><ellipse cx="743" cy="174" rx="4.4" ry="4.1"/><ellipse cx="334" cy="54" rx="2.5" ry="2.2"/><ellipse cx="562" cy="246" rx="3.8" ry="2.5"/><ellipse cx="523" cy="493" rx="4.3" ry="3.6"/><ellipse cx="460" cy="41" rx="2.8" ry="2.1"/><ellipse cx="84" cy="83" rx="4.9" ry="4.3"/><ellipse cx="452" cy="440" rx="4.6" ry="3.9"/><ellipse cx="350" cy="268" rx="4.9" ry="4.8"/><ellipse cx="144" cy="515" rx="3.9" ry="2.9"/><ellipse cx="551" cy="199" rx="4.2" ry="3.5"/><ellipse cx="469" cy="73" rx="4.7" ry="4.6"/><ellipse cx="601" cy="210" rx="4.2" ry="2.7"/><ellipse cx="440" cy="240" rx="3.4" ry="2.4"/><ellipse cx="83" cy="292" rx="2.7" ry="1.8"/><ellipse cx="279" cy="112" rx="2.1" ry="2.0"/><ellipse cx="71" cy="558" rx="3.3" ry="2.1"/><ellipse cx="352" cy="334" rx="2.2" ry="1.8"/><ellipse cx="36" cy="213" rx="4.1" ry="3.9"/><ellipse cx="164" cy="276" rx="4.8" ry="3.5"/><ellipse cx="118" cy="183" rx="4.6" ry="3.4"/><ellipse cx="529" cy="584" rx="3.9" ry="2.6"/><ellipse cx="391" cy="229" rx="3.4" ry="2.9"/><ellipse cx="762" cy="439" rx="3.5" ry="3.3"/><ellipse cx="410" cy="152" rx="4.0" ry="2.8"/><ellipse cx="189" cy="266" rx="3.5" ry="2.1"/><ellipse cx="301" cy="597" rx="3.5" ry="2.6"/><ellipse cx="373" cy="445" rx="3.5" ry="2.7"/><ellipse cx="465" cy="200" rx="4.0" ry="3.1"/><ellipse cx="559" cy="242" rx="3.9" ry="2.7"/><ellipse cx="394" cy="326" rx="2.0" ry="1.3"/><ellipse cx="375" cy="484" rx="4.4" ry="4.2"/><ellipse cx="635" cy="601" rx="2.6" ry="1.7"/><ellipse cx="134" cy="500" rx="2.6" ry="1.9"/><ellipse cx="134" cy="567" rx="2.6" ry="1.8"/><ellipse cx="476" cy="448" rx="2.1" ry="1.8"/><ellipse cx="427" cy="361" rx="3.5" ry="3.3"/><ellipse cx="647" cy="539" rx="3.0" ry="1.8"/><ellipse cx="383" cy="55" rx="3.9" ry="3.1"/><ellipse cx="590" cy="523" rx="4.2" ry="3.7"/><ellipse cx="280" cy="461" rx="3.9" ry="2.7"/><ellipse cx="682" cy="314" rx="3.6" ry="2.4"/><ellipse cx="653" cy="315" rx="4.2" ry="4.0"/><ellipse cx="419" cy="379" rx="3.4" ry="2.4"/><ellipse cx="629" cy="574" rx="2.1" ry="1.3"/><ellipse cx="382" cy="86" rx="3.3" ry="2.4"/><ellipse cx="211" cy="490" rx="3.7" ry="3.6"/><ellipse cx="176" cy="261" rx="3.9" ry="3.5"/><ellipse cx="351" cy="148" rx="3.2" ry="2.6"/><ellipse cx="755" cy="418" rx="4.5" ry="4.2"/><ellipse cx="351" cy="333" rx="4.5" ry="4.0"/><ellipse cx="330" cy="149" rx="4.2" ry="3.0"/><ellipse cx="229" cy="186" rx="4.1" ry="3.5"/><ellipse cx="733" cy="382" rx="3.5" ry="3.3"/><ellipse cx="134" cy="382" rx="5.0" ry="3.6"/><ellipse cx="144" cy="106" rx="2.1" ry="1.9"/><ellipse cx="339" cy="516" rx="4.5" ry="2.8"/><ellipse cx="260" cy="193" rx="2.8" ry="1.7"/><ellipse cx="221" cy="237" rx="3.4" ry="2.7"/><ellipse cx="769" cy="103" rx="2.4" ry="2.3"/><ellipse cx="246" cy="352" rx="2.9" ry="2.8"/><ellipse cx="731" cy="371" rx="2.3" ry="1.7"/><ellipse cx="558" cy="368" rx="2.8" ry="2.2"/><ellipse cx="76" cy="274" rx="4.5" ry="3.4"/><ellipse cx="380" cy="137" rx="4.1" ry="3.2"/><ellipse cx="319" cy="489" rx="2.9" ry="1.8"/><ellipse cx="512" cy="468" rx="2.2" ry="1.6"/><ellipse cx="694" cy="335" rx="3.2" ry="2.1"/><ellipse cx="246" cy="380" rx="4.7" ry="4.1"/><ellipse cx="756" cy="276" rx="2.2" ry="1.6"/><ellipse cx="305" cy="73" rx="2.2" ry="2.2"/><ellipse cx="701" cy="117" rx="2.2" ry="2.2"/><ellipse cx="155" cy="215" rx="2.7" ry="1.8"/><ellipse cx="53" cy="308" rx="4.3" ry="2.7"/><ellipse cx="399" cy="117" rx="4.4" ry="4.2"/><ellipse cx="686" cy="349" rx="2.4" ry="2.2"/><ellipse cx="82" cy="490" rx="2.9" ry="2.8"/><ellipse cx="244" cy="469" rx="3.5" ry="2.4"/><ellipse cx="398" cy="290" rx="2.5" ry="2.0"/><ellipse cx="429" cy="446" rx="3.0" ry="2.6"/><ellipse cx="179" cy="343" rx="2.7" ry="2.5"/><ellipse cx="173" cy="209" rx="2.2" ry="1.6"/><ellipse cx="436" cy="172" rx="2.4" ry="2.3"/><ellipse cx="263" cy="165" rx="3.2" ry="3.0"/><ellipse cx="590" cy="564" rx="3.6" ry="2.7"/><ellipse cx="406" cy="74" rx="4.0" ry="3.8"/><ellipse cx="717" cy="522" rx="3.9" ry="3.6"/><ellipse cx="249" cy="366" rx="2.5" ry="2.4"/><ellipse cx="414" cy="142" rx="5.0" ry="4.2"/><ellipse cx="189" cy="530" rx="3.9" ry="3.3"/><ellipse cx="688" cy="223" rx="2.8" ry="2.3"/><ellipse cx="182" cy="445" rx="3.4" ry="2.3"/><ellipse cx="123" cy="134" rx="3.7" ry="3.6"/><ellipse cx="628" cy="532" rx="3.7" ry="3.4"/><ellipse cx="278" cy="253" rx="4.7" ry="3.3"/><ellipse cx="498" cy="369" rx="2.2" ry="1.8"/><ellipse cx="628" cy="556" rx="3.3" ry="3.1"/><ellipse cx="58" cy="566" rx="4.0" ry="3.7"/><ellipse cx="366" cy="381" rx="4.5" ry="3.1"/><ellipse cx="168" cy="477" rx="4.6" ry="3.2"/><ellipse cx="440" cy="334" rx="2.9" ry="2.7"/><ellipse cx="242" cy="492" rx="3.2" ry="2.1"/><ellipse cx="752" cy="126" rx="2.3" ry="1.4"/><ellipse cx="293" cy="55" rx="2.5" ry="2.4"/><ellipse cx="221" cy="455" rx="2.6" ry="1.6"/><ellipse cx="35" cy="111" rx="4.9" ry="3.8"/><ellipse cx="217" cy="67" rx="3.9" ry="2.9"/><ellipse cx="165" cy="293" rx="4.1" ry="3.0"/><ellipse cx="451" cy="149" rx="3.7" ry="2.3"/><ellipse cx="722" cy="578" rx="3.7" ry="2.9"/><ellipse cx="328" cy="474" rx="3.7" ry="3.3"/><ellipse cx="362" cy="272" rx="4.2" ry="2.8"/><ellipse cx="287" cy="179" rx="2.6" ry="2.5"/><ellipse cx="264" cy="467" rx="2.1" ry="2.1"/><ellipse cx="382" cy="472" rx="2.3" ry="2.0"/><ellipse cx="639" cy="208" rx="2.3" ry="1.7"/><ellipse cx="607" cy="482" rx="2.2" ry="1.6"/><ellipse cx="717" cy="207" rx="2.3" ry="2.1"/><ellipse cx="645" cy="298" rx="4.1" ry="3.7"/><ellipse cx="658" cy="150" rx="4.2" ry="4.1"/><ellipse cx="622" cy="343" rx="3.2" ry="3.2"/><ellipse cx="775" cy="507" rx="3.5" ry="3.4"/><ellipse cx="686" cy="333" rx="2.4" ry="2.0"/><ellipse cx="131" cy="234" rx="3.7" ry="3.0"/><ellipse cx="513" cy="516" rx="4.8" ry="3.5"/><ellipse cx="746" cy="227" rx="3.0" ry="2.7"/><ellipse cx="762" cy="334" rx="4.4" ry="4.1"/><ellipse cx="266" cy="398" rx="4.8" ry="2.9"/><ellipse cx="123" cy="546" rx="3.7" ry="2.8"/><ellipse cx="625" cy="297" rx="2.4" ry="1.8"/><ellipse cx="600" cy="412" rx="3.5" ry="2.1"/><ellipse cx="777" cy="86" rx="2.8" ry="2.6"/><ellipse cx="733" cy="439" rx="3.1" ry="2.8"/><ellipse cx="531" cy="375" rx="4.4" ry="3.6"/><ellipse cx="434" cy="190" rx="4.3" ry="2.8"/><ellipse cx="101" cy="405" rx="2.1" ry="2.0"/><ellipse cx="175" cy="311" rx="2.8" ry="2.2"/><ellipse cx="492" cy="154" rx="3.6" ry="3.6"/><ellipse cx="142" cy="167" rx="2.6" ry="1.7"/><ellipse cx="39" cy="596" rx="4.9" ry="3.0"/><ellipse cx="655" cy="376" rx="2.6" ry="2.5"/><ellipse cx="117" cy="411" rx="4.0" ry="3.5"/><ellipse cx="208" cy="127" rx="3.9" ry="2.8"/><ellipse cx="484" cy="469" rx="2.1" ry="1.9"/><ellipse cx="764" cy="274" rx="3.7" ry="2.7"/><ellipse cx="690" cy="169" rx="2.3" ry="1.8"/><ellipse cx="363" cy="371" rx="2.6" ry="2.5"/><ellipse cx="431" cy="266" rx="4.2" ry="2.6"/><ellipse cx="721" cy="524" rx="2.8" ry="2.2"/><ellipse cx="59" cy="500" rx="4.9" ry="4.1"/><ellipse cx="764" cy="314" rx="4.6" ry="4.3"/><ellipse cx="724" cy="307" rx="3.5" ry="2.2"/><ellipse cx="743" cy="91" rx="3.7" ry="3.1"/><ellipse cx="161" cy="243" rx="2.9" ry="1.8"/><ellipse cx="330" cy="261" rx="4.2" ry="3.7"/><ellipse cx="741" cy="545" rx="2.8" ry="2.3"/><ellipse cx="550" cy="498" rx="2.4" ry="1.8"/><ellipse cx="491" cy="223" rx="4.7" ry="3.6"/><ellipse cx="561" cy="80" rx="4.7" ry="4.6"/><ellipse cx="754" cy="238" rx="4.5" ry="4.5"/><ellipse cx="110" cy="83" rx="4.0" ry="4.0"/><ellipse cx="53" cy="526" rx="4.0" ry="3.1"/><ellipse cx="137" cy="334" rx="3.5" ry="2.4"/><ellipse cx="705" cy="469" rx="2.5" ry="2.1"/><ellipse cx="479" cy="584" rx="4.9" ry="4.7"/><ellipse cx="71" cy="284" rx="2.5" ry="2.2"/><ellipse cx="92" cy="520" rx="3.8" ry="3.3"/><ellipse cx="739" cy="544" rx="4.2" ry="3.6"/><ellipse cx="440" cy="340" rx="2.1" ry="1.4"/><ellipse cx="547" cy="281" rx="3.4" ry="3.1"/><ellipse cx="320" cy="462" rx="4.4" ry="4.1"/><ellipse cx="206" cy="392" rx="3.4" ry="2.8"/><ellipse cx="95" cy="150" rx="2.7" ry="2.5"/><ellipse cx="617" cy="262" rx="3.8" ry="3.0"/><ellipse cx="433" cy="195" rx="3.0" ry="3.0"/><ellipse cx="694" cy="110" rx="2.4" ry="2.2"/><ellipse cx="363" cy="411" rx="3.8" ry="3.2"/><ellipse cx="710" cy="129" rx="4.6" ry="3.2"/><ellipse cx="87" cy="212" rx="3.5" ry="3.3"/><ellipse cx="465" cy="603" rx="2.6" ry="1.9"/><ellipse cx="460" cy="383" rx="4.1" ry="3.3"/><ellipse cx="106" cy="494" rx="4.4" ry="2.8"/><ellipse cx="640" cy="43" rx="4.1" ry="3.4"/><ellipse cx="253" cy="92" rx="2.8" ry="2.4"/><ellipse cx="430" cy="512" rx="2.5" ry="2.1"/><ellipse cx="258" cy="65" rx="2.6" ry="1.7"/><ellipse cx="150" cy="62" rx="4.9" ry="3.7"/><ellipse cx="598" cy="285" rx="3.5" ry="2.5"/><ellipse cx="738" cy="163" rx="4.9" ry="4.4"/><ellipse cx="678" cy="96" rx="5.0" ry="4.3"/><ellipse cx="465" cy="369" rx="3.3" ry="3.3"/><ellipse cx="766" cy="592" rx="2.4" ry="2.0"/><ellipse cx="555" cy="146" rx="4.7" ry="4.2"/><ellipse cx="120" cy="212" rx="4.0" ry="3.9"/><ellipse cx="779" cy="200" rx="4.5" ry="3.8"/><ellipse cx="302" cy="179" rx="2.3" ry="1.4"/><ellipse cx="353" cy="110" rx="2.6" ry="1.9"/><ellipse cx="132" cy="157" rx="2.8" ry="2.7"/><ellipse cx="348" cy="398" rx="3.6" ry="3.6"/><ellipse cx="650" cy="577" rx="4.6" ry="4.1"/><ellipse cx="687" cy="233" rx="3.8" ry="2.8"/><ellipse cx="724" cy="195" rx="5.0" ry="3.5"/><ellipse cx="285" cy="471" rx="3.7" ry="2.5"/><ellipse cx="125" cy="548" rx="2.6" ry="2.1"/><ellipse cx="658" cy="322" rx="3.4" ry="2.3"/><ellipse cx="732" cy="389" rx="4.0" ry="3.0"/><ellipse cx="564" cy="260" rx="2.5" ry="1.9"/><ellipse cx="601" cy="541" rx="3.5" ry="3.1"/><ellipse cx="731" cy="417" rx="4.9" ry="3.5"/><ellipse cx="684" cy="475" rx="3.7" ry="3.1"/><ellipse cx="156" cy="50" rx="2.1" ry="2.0"/><ellipse cx="329" cy="389" rx="3.3" ry="3.2"/><ellipse cx="583" cy="257" rx="3.9" ry="2.7"/><ellipse cx="737" cy="133" rx="4.7" ry="3.9"/><ellipse cx="141" cy="611" rx="2.6" ry="2.3"/><ellipse cx="225" cy="118" rx="4.4" ry="4.2"/><ellipse cx="699" cy="430" rx="3.9" ry="2.6"/><ellipse cx="779" cy="230" rx="3.9" ry="2.4"/><ellipse cx="267" cy="343" rx="3.4" ry="2.6"/><ellipse cx="317" cy="51" rx="3.9" ry="2.9"/><ellipse cx="115" cy="254" rx="4.0" ry="3.6"/><ellipse cx="342" cy="107" rx="3.9" ry="3.3"/><ellipse cx="393" cy="603" rx="3.1" ry="2.5"/><ellipse cx="53" cy="117" rx="2.6" ry="1.7"/><ellipse cx="161" cy="103" rx="4.8" ry="4.0"/><ellipse cx="397" cy="366" rx="2.8" ry="2.7"/><ellipse cx="582" cy="288" rx="2.1" ry="1.2"/><ellipse cx="56" cy="461" rx="2.1" ry="1.6"/><ellipse cx="419" cy="255" rx="2.9" ry="2.8"/><ellipse cx="746" cy="478" rx="3.6" ry="3.5"/><ellipse cx="556" cy="174" rx="2.4" ry="1.6"/><ellipse cx="108" cy="266" rx="3.8" ry="2.6"/><ellipse cx="91" cy="235" rx="3.4" ry="3.2"/><ellipse cx="698" cy="517" rx="2.8" ry="2.6"/><ellipse cx="241" cy="379" rx="3.6" ry="2.5"/><ellipse cx="436" cy="193" rx="4.4" ry="3.0"/><ellipse cx="616" cy="149" rx="2.0" ry="1.6"/><ellipse cx="691" cy="408" rx="2.8" ry="2.2"/><ellipse cx="278" cy="424" rx="2.9" ry="1.9"/><ellipse cx="779" cy="63" rx="2.4" ry="1.8"/><ellipse cx="279" cy="361" rx="3.5" ry="2.3"/><ellipse cx="652" cy="451" rx="2.5" ry="1.7"/><ellipse cx="114" cy="337" rx="3.9" ry="3.5"/><ellipse cx="209" cy="542" rx="4.7" ry="3.7"/><ellipse cx="120" cy="141" rx="4.2" ry="2.6"/><ellipse cx="498" cy="455" rx="2.1" ry="1.4"/><ellipse cx="211" cy="294" rx="4.6" ry="4.2"/><ellipse cx="322" cy="47" rx="3.6" ry="2.5"/><ellipse cx="247" cy="580" rx="2.9" ry="2.2"/><ellipse cx="534" cy="581" rx="2.2" ry="1.8"/><ellipse cx="527" cy="113" rx="2.3" ry="1.7"/><ellipse cx="284" cy="445" rx="4.9" ry="4.2"/><ellipse cx="352" cy="618" rx="4.8" ry="3.7"/><ellipse cx="383" cy="340" rx="2.3" ry="2.0"/><ellipse cx="564" cy="316" rx="3.8" ry="3.6"/><ellipse cx="496" cy="440" rx="4.6" ry="4.2"/><ellipse cx="373" cy="595" rx="4.8" ry="3.1"/><ellipse cx="780" cy="137" rx="4.6" ry="4.0"/><ellipse cx="616" cy="241" rx="2.9" ry="1.9"/><ellipse cx="121" cy="106" rx="2.5" ry="2.3"/><ellipse cx="433" cy="538" rx="5.0" ry="3.8"/><ellipse cx="162" cy="560" rx="2.3" ry="1.9"/><ellipse cx="664" cy="112" rx="2.8" ry="2.4"/><ellipse cx="103" cy="542" rx="4.2" ry="3.5"/><ellipse cx="613" cy="121" rx="4.5" ry="3.7"/><ellipse cx="318" cy="512" rx="3.4" ry="2.1"/><ellipse cx="554" cy="61" rx="3.7" ry="2.5"/><ellipse cx="338" cy="283" rx="4.1" ry="3.5"/><ellipse cx="294" cy="173" rx="4.3" ry="2.7"/><ellipse cx="468" cy="462" rx="3.9" ry="2.4"/><ellipse cx="92" cy="413" rx="4.4" ry="3.7"/><ellipse cx="769" cy="446" rx="3.3" ry="3.2"/><ellipse cx="208" cy="104" rx="3.2" ry="1.9"/><ellipse cx="456" cy="350" rx="2.6" ry="2.2"/><ellipse cx="382" cy="446" rx="4.4" ry="4.0"/><ellipse cx="543" cy="98" rx="3.7" ry="3.2"/><ellipse cx="177" cy="256" rx="3.6" ry="2.5"/><ellipse cx="92" cy="206" rx="3.2" ry="2.9"/><ellipse cx="769" cy="531" rx="4.7" ry="4.6"/><ellipse cx="414" cy="399" rx="2.1" ry="1.9"/><ellipse cx="657" cy="240" rx="3.8" ry="2.4"/><ellipse cx="733" cy="289" rx="3.4" ry="2.3"/><ellipse cx="683" cy="593" rx="3.2" ry="2.6"/><ellipse cx="245" cy="448" rx="3.9" ry="3.6"/><ellipse cx="43" cy="332" rx="4.9" ry="3.0"/><ellipse cx="499" cy="258" rx="2.3" ry="1.7"/><ellipse cx="752" cy="164" rx="3.4" ry="3.2"/><ellipse cx="112" cy="53" rx="3.8" ry="3.2"/><ellipse cx="58" cy="526" rx="4.3" ry="3.6"/><ellipse cx="212" cy="576" rx="2.7" ry="2.7"/><ellipse cx="443" cy="567" rx="3.6" ry="3.1"/><ellipse cx="736" cy="294" rx="2.9" ry="2.9"/><ellipse cx="776" cy="114" rx="4.6" ry="4.1"/><ellipse cx="188" cy="175" rx="2.2" ry="2.0"/><ellipse cx="91" cy="525" rx="4.4" ry="4.4"/><ellipse cx="114" cy="510" rx="2.2" ry="1.4"/><ellipse cx="665" cy="122" rx="4.2" ry="4.2"/><ellipse cx="392" cy="285" rx="4.7" ry="4.0"/><ellipse cx="768" cy="441" rx="3.3" ry="2.1"/><ellipse cx="699" cy="478" rx="2.4" ry="2.1"/><ellipse cx="232" cy="295" rx="2.5" ry="1.6"/><ellipse cx="381" cy="454" rx="4.1" ry="3.9"/><ellipse cx="714" cy="472" rx="2.7" ry="2.5"/><ellipse cx="581" cy="107" rx="2.0" ry="2.0"/><ellipse cx="159" cy="545" rx="4.8" ry="3.7"/><ellipse cx="426" cy="82" rx="2.2" ry="2.1"/><ellipse cx="497" cy="190" rx="2.6" ry="1.6"/><ellipse cx="604" cy="198" rx="2.2" ry="2.0"/><ellipse cx="266" cy="138" rx="3.7" ry="2.8"/><ellipse cx="424" cy="306" rx="3.6" ry="2.6"/><ellipse cx="406" cy="595" rx="2.6" ry="2.0"/><ellipse cx="377" cy="301" rx="3.0" ry="2.6"/><ellipse cx="730" cy="127" rx="3.3" ry="3.3"/><ellipse cx="31" cy="442" rx="3.1" ry="2.5"/><ellipse cx="575" cy="189" rx="2.2" ry="1.9"/><ellipse cx="771" cy="304" rx="4.8" ry="3.9"/><ellipse cx="539" cy="424" rx="4.3" ry="3.7"/><ellipse cx="544" cy="453" rx="2.8" ry="2.6"/><ellipse cx="487" cy="331" rx="3.9" ry="2.9"/><ellipse cx="210" cy="570" rx="2.6" ry="2.0"/><ellipse cx="474" cy="328" rx="2.3" ry="1.6"/><ellipse cx="605" cy="120" rx="3.4" ry="2.2"/><ellipse cx="87" cy="607" rx="3.3" ry="2.6"/><ellipse cx="85" cy="133" rx="3.5" ry="3.4"/><ellipse cx="734" cy="272" rx="3.5" ry="2.4"/><ellipse cx="656" cy="120" rx="2.9" ry="2.0"/><ellipse cx="584" cy="543" rx="3.3" ry="2.4"/><ellipse cx="717" cy="97" rx="4.3" ry="3.1"/><ellipse cx="711" cy="189" rx="4.6" ry="4.3"/><ellipse cx="265" cy="158" rx="3.9" ry="2.5"/><ellipse cx="462" cy="219" rx="4.0" ry="2.6"/><ellipse cx="547" cy="195" rx="3.7" ry="3.3"/><ellipse cx="155" cy="229" rx="4.1" ry="3.6"/><ellipse cx="699" cy="57" rx="3.2" ry="2.3"/><ellipse cx="693" cy="330" rx="3.0" ry="2.0"/><ellipse cx="363" cy="237" rx="2.1" ry="1.8"/><ellipse cx="697" cy="276" rx="3.4" ry="3.2"/><ellipse cx="746" cy="597" rx="4.2" ry="2.9"/><ellipse cx="302" cy="237" rx="4.4" ry="4.0"/><ellipse cx="644" cy="129" rx="2.7" ry="2.7"/><ellipse cx="285" cy="385" rx="3.3" ry="2.9"/><ellipse cx="34" cy="508" rx="4.7" ry="4.2"/><ellipse cx="294" cy="442" rx="2.6" ry="2.4"/><ellipse cx="629" cy="384" rx="4.3" ry="3.7"/><ellipse cx="607" cy="564" rx="4.3" ry="4.1"/><ellipse cx="564" cy="88" rx="2.6" ry="2.5"/><ellipse cx="96" cy="544" rx="4.2" ry="2.7"/><ellipse cx="695" cy="455" rx="2.6" ry="2.0"/><ellipse cx="540" cy="402" rx="3.7" ry="3.5"/><ellipse cx="269" cy="537" rx="4.9" ry="4.6"/><ellipse cx="358" cy="182" rx="3.5" ry="2.7"/><ellipse cx="530" cy="91" rx="2.9" ry="1.8"/><ellipse cx="122" cy="220" rx="3.6" ry="3.3"/><ellipse cx="311" cy="555" rx="3.5" ry="3.4"/><ellipse cx="281" cy="228" rx="2.5" ry="2.3"/><ellipse cx="474" cy="591" rx="3.5" ry="3.2"/><ellipse cx="153" cy="580" rx="2.2" ry="1.5"/><ellipse cx="772" cy="81" rx="4.9" ry="4.9"/><ellipse cx="78" cy="283" rx="4.4" ry="4.3"/><ellipse cx="435" cy="566" rx="3.3" ry="2.9"/><ellipse cx="82" cy="421" rx="2.6" ry="2.3"/><ellipse cx="242" cy="56" rx="3.3" ry="2.3"/><ellipse cx="410" cy="44" rx="3.3" ry="2.3"/><ellipse cx="300" cy="394" rx="4.2" ry="3.3"/><ellipse cx="351" cy="206" rx="3.8" ry="3.4"/><ellipse cx="209" cy="113" rx="4.1" ry="2.9"/><ellipse cx="597" cy="362" rx="2.3" ry="1.7"/><ellipse cx="729" cy="524" rx="4.0" ry="4.0"/><ellipse cx="775" cy="495" rx="4.6" ry="3.7"/><ellipse cx="700" cy="206" rx="4.8" ry="4.8"/><ellipse cx="645" cy="597" rx="4.0" ry="3.5"/><ellipse cx="114" cy="461" rx="2.3" ry="2.2"/><ellipse cx="634" cy="548" rx="4.2" ry="3.0"/><ellipse cx="481" cy="324" rx="4.6" ry="3.9"/><ellipse cx="338" cy="456" rx="4.3" ry="3.7"/><ellipse cx="308" cy="426" rx="3.7" ry="2.4"/><ellipse cx="233" cy="125" rx="3.5" ry="2.3"/><ellipse cx="603" cy="383" rx="2.4" ry="2.1"/><ellipse cx="619" cy="59" rx="4.2" ry="3.3"/><ellipse cx="704" cy="572" rx="3.9" ry="3.5"/><ellipse cx="170" cy="468" rx="4.1" ry="3.7"/><ellipse cx="368" cy="176" rx="3.1" ry="2.1"/><ellipse cx="526" cy="434" rx="3.9" ry="3.5"/><ellipse cx="245" cy="392" rx="4.4" ry="3.7"/><ellipse cx="162" cy="206" rx="2.9" ry="2.1"/><ellipse cx="543" cy="259" rx="2.6" ry="2.6"/><ellipse cx="465" cy="568" rx="3.3" ry="2.1"/><ellipse cx="83" cy="569" rx="2.1" ry="1.3"/><ellipse cx="478" cy="277" rx="2.1" ry="1.6"/><ellipse cx="470" cy="136" rx="3.1" ry="2.2"/><ellipse cx="409" cy="555" rx="3.8" ry="3.4"/><ellipse cx="642" cy="48" rx="2.3" ry="2.1"/><ellipse cx="399" cy="282" rx="4.6" ry="3.2"/><ellipse cx="390" cy="504" rx="4.1" ry="2.6"/><ellipse cx="225" cy="540" rx="3.8" ry="2.9"/><ellipse cx="703" cy="346" rx="4.6" ry="3.3"/><ellipse cx="490" cy="260" rx="2.0" ry="1.7"/><ellipse cx="416" cy="229" rx="2.9" ry="2.3"/><ellipse cx="505" cy="601" rx="4.2" ry="4.1"/><ellipse cx="258" cy="55" rx="2.5" ry="2.3"/><ellipse cx="105" cy="480" rx="5.0" ry="4.5"/><ellipse cx="397" cy="158" rx="4.5" ry="3.1"/><ellipse cx="35" cy="318" rx="4.8" ry="4.8"/><ellipse cx="415" cy="64" rx="3.4" ry="2.6"/><ellipse cx="521" cy="259" rx="3.2" ry="3.0"/><ellipse cx="628" cy="185" rx="3.6" ry="2.2"/><ellipse cx="407" cy="48" rx="3.9" ry="2.9"/><ellipse cx="729" cy="334" rx="2.5" ry="2.3"/><ellipse cx="323" cy="362" rx="4.2" ry="3.2"/><ellipse cx="426" cy="69" rx="2.9" ry="1.8"/><ellipse cx="403" cy="320" rx="2.6" ry="2.0"/><ellipse cx="38" cy="590" rx="4.6" ry="3.3"/><ellipse cx="773" cy="463" rx="3.5" ry="2.5"/><ellipse cx="556" cy="521" rx="4.4" ry="3.4"/><ellipse cx="685" cy="166" rx="4.4" ry="4.3"/><ellipse cx="61" cy="136" rx="4.0" ry="3.5"/><ellipse cx="135" cy="52" rx="4.8" ry="4.8"/><ellipse cx="714" cy="77" rx="4.2" ry="3.3"/><ellipse cx="307" cy="215" rx="4.1" ry="3.1"/><ellipse cx="155" cy="59" rx="2.1" ry="1.7"/><ellipse cx="574" cy="373" rx="4.9" ry="4.7"/><ellipse cx="701" cy="353" rx="3.5" ry="3.1"/><ellipse cx="505" cy="141" rx="3.6" ry="2.8"/><ellipse cx="401" cy="323" rx="3.5" ry="3.0"/><ellipse cx="265" cy="129" rx="5.0" ry="4.5"/><ellipse cx="240" cy="520" rx="4.4" ry="3.2"/><ellipse cx="243" cy="154" rx="2.1" ry="1.4"/><ellipse cx="713" cy="603" rx="3.9" ry="3.9"/><ellipse cx="69" cy="357" rx="4.9" ry="3.5"/><ellipse cx="47" cy="581" rx="3.8" ry="3.7"/><ellipse cx="92" cy="522" rx="3.8" ry="3.6"/><ellipse cx="266" cy="56" rx="3.9" ry="2.9"/><ellipse cx="148" cy="130" rx="2.3" ry="1.9"/><ellipse cx="613" cy="93" rx="2.6" ry="2.4"/><ellipse cx="214" cy="381" rx="2.6" ry="2.4"/><ellipse cx="467" cy="91" rx="3.0" ry="2.6"/><ellipse cx="208" cy="116" rx="3.2" ry="1.9"/><ellipse cx="74" cy="107" rx="2.9" ry="2.7"/><ellipse cx="701" cy="269" rx="4.2" ry="3.9"/><ellipse cx="761" cy="169" rx="4.1" ry="3.9"/><ellipse cx="590" cy="65" rx="4.5" ry="4.1"/><ellipse cx="478" cy="64" rx="2.2" ry="1.4"/><ellipse cx="445" cy="387" rx="2.3" ry="2.2"/><ellipse cx="336" cy="120" rx="3.8" ry="2.7"/><ellipse cx="191" cy="162" rx="4.4" ry="2.8"/><ellipse cx="207" cy="121" rx="4.0" ry="3.5"/><ellipse cx="351" cy="129" rx="2.1" ry="2.0"/><ellipse cx="482" cy="75" rx="3.9" ry="3.7"/><ellipse cx="183" cy="588" rx="2.5" ry="1.9"/><ellipse cx="358" cy="599" rx="3.4" ry="3.1"/><ellipse cx="572" cy="204" rx="3.4" ry="2.7"/><ellipse cx="279" cy="155" rx="2.5" ry="2.5"/><ellipse cx="725" cy="133" rx="5.0" ry="3.7"/><ellipse cx="600" cy="311" rx="3.4" ry="2.6"/><ellipse cx="55" cy="342" rx="2.8" ry="2.7"/><ellipse cx="504" cy="203" rx="4.5" ry="3.8"/><ellipse cx="506" cy="467" rx="4.2" ry="2.9"/><ellipse cx="681" cy="471" rx="4.3" ry="3.8"/><ellipse cx="206" cy="609" rx="4.2" ry="4.0"/><ellipse cx="243" cy="218" rx="4.6" ry="4.6"/><ellipse cx="554" cy="126" rx="2.9" ry="2.3"/><ellipse cx="37" cy="236" rx="3.7" ry="3.6"/><ellipse cx="547" cy="558" rx="2.6" ry="2.5"/><ellipse cx="194" cy="186" rx="4.0" ry="2.8"/><ellipse cx="39" cy="447" rx="2.2" ry="1.9"/><ellipse cx="108" cy="334" rx="4.7" ry="3.6"/><ellipse cx="183" cy="557" rx="4.8" ry="3.8"/><ellipse cx="584" cy="182" rx="2.1" ry="1.4"/><ellipse cx="477" cy="495" rx="2.4" ry="1.6"/><ellipse cx="253" cy="191" rx="3.1" ry="2.7"/><ellipse cx="303" cy="472" rx="4.0" ry="3.8"/><ellipse cx="472" cy="604" rx="3.1" ry="2.6"/><ellipse cx="180" cy="159" rx="3.1" ry="2.9"/><ellipse cx="707" cy="305" rx="3.1" ry="2.2"/><ellipse cx="455" cy="306" rx="5.0" ry="4.4"/><ellipse cx="300" cy="367" rx="3.4" ry="3.3"/><ellipse cx="168" cy="506" rx="2.8" ry="2.2"/><ellipse cx="60" cy="185" rx="3.0" ry="2.1"/><ellipse cx="505" cy="111" rx="2.9" ry="2.4"/><ellipse cx="430" cy="380" rx="2.5" ry="1.8"/><ellipse cx="607" cy="614" rx="2.5" ry="1.6"/><ellipse cx="690" cy="619" rx="3.2" ry="3.2"/><ellipse cx="476" cy="563" rx="2.1" ry="1.3"/><ellipse cx="659" cy="311" rx="2.3" ry="2.1"/><ellipse cx="31" cy="152" rx="4.2" ry="3.8"/><ellipse cx="415" cy="394" rx="3.8" ry="2.7"/><ellipse cx="293" cy="401" rx="2.7" ry="2.5"/><ellipse cx="718" cy="404" rx="2.5" ry="1.8"/><ellipse cx="471" cy="299" rx="3.2" ry="1.9"/><ellipse cx="322" cy="257" rx="2.3" ry="2.3"/><ellipse cx="611" cy="600" rx="2.7" ry="2.4"/><ellipse cx="569" cy="183" rx="3.8" ry="3.4"/><ellipse cx="475" cy="356" rx="2.8" ry="1.9"/><ellipse cx="271" cy="330" rx="3.3" ry="2.2"/><ellipse cx="73" cy="615" rx="3.1" ry="2.9"/><ellipse cx="701" cy="134" rx="2.6" ry="1.8"/><ellipse cx="32" cy="168" rx="3.8" ry="3.4"/></g>
<g fill="#DDBD9C" opacity="0.55"><circle cx="160" cy="346" r="2.6"/><circle cx="572" cy="437" r="2.8"/><circle cx="95" cy="115" r="2.8"/><circle cx="365" cy="451" r="2.8"/><circle cx="609" cy="453" r="2.3"/><circle cx="706" cy="429" r="2.4"/><circle cx="648" cy="239" r="2.2"/><circle cx="476" cy="609" r="1.9"/><circle cx="248" cy="100" r="2.6"/><circle cx="388" cy="317" r="2.2"/><circle cx="305" cy="376" r="1.9"/><circle cx="389" cy="125" r="2.4"/><circle cx="402" cy="278" r="2.1"/><circle cx="630" cy="176" r="2.4"/><circle cx="754" cy="252" r="2.3"/><circle cx="542" cy="328" r="2.8"/><circle cx="696" cy="176" r="2.4"/><circle cx="385" cy="305" r="2.6"/><circle cx="174" cy="203" r="2.0"/><circle cx="357" cy="222" r="2.1"/><circle cx="740" cy="399" r="2.1"/><circle cx="103" cy="408" r="2.6"/><circle cx="458" cy="66" r="2.6"/><circle cx="628" cy="368" r="2.7"/><circle cx="295" cy="260" r="2.0"/><circle cx="603" cy="472" r="2.5"/><circle cx="413" cy="210" r="3.2"/><circle cx="59" cy="368" r="2.1"/><circle cx="632" cy="601" r="2.5"/><circle cx="571" cy="159" r="3.2"/><circle cx="369" cy="546" r="1.6"/><circle cx="279" cy="445" r="1.9"/><circle cx="37" cy="229" r="2.7"/><circle cx="677" cy="149" r="2.5"/><circle cx="682" cy="483" r="2.6"/><circle cx="398" cy="172" r="2.0"/><circle cx="453" cy="216" r="2.7"/><circle cx="216" cy="402" r="1.9"/><circle cx="545" cy="553" r="3.0"/><circle cx="344" cy="578" r="1.8"/><circle cx="324" cy="206" r="2.2"/><circle cx="72" cy="249" r="2.6"/><circle cx="593" cy="298" r="3.1"/><circle cx="536" cy="470" r="2.9"/><circle cx="297" cy="483" r="2.4"/><circle cx="246" cy="428" r="2.7"/><circle cx="67" cy="454" r="3.1"/><circle cx="55" cy="588" r="2.3"/><circle cx="728" cy="268" r="2.3"/><circle cx="522" cy="215" r="2.0"/><circle cx="523" cy="236" r="1.6"/><circle cx="248" cy="560" r="2.8"/><circle cx="130" cy="336" r="2.6"/><circle cx="161" cy="517" r="3.2"/><circle cx="523" cy="497" r="2.2"/><circle cx="216" cy="432" r="3.0"/><circle cx="581" cy="127" r="3.2"/><circle cx="709" cy="440" r="1.9"/><circle cx="159" cy="108" r="2.9"/><circle cx="442" cy="613" r="1.9"/><circle cx="301" cy="203" r="3.0"/><circle cx="604" cy="462" r="2.4"/><circle cx="232" cy="271" r="1.8"/><circle cx="564" cy="391" r="2.5"/><circle cx="683" cy="117" r="2.6"/><circle cx="111" cy="188" r="2.6"/><circle cx="414" cy="546" r="2.0"/><circle cx="299" cy="259" r="2.1"/><circle cx="537" cy="235" r="2.2"/><circle cx="619" cy="85" r="2.6"/><circle cx="402" cy="278" r="2.3"/><circle cx="158" cy="115" r="2.7"/><circle cx="273" cy="185" r="1.9"/><circle cx="503" cy="445" r="2.6"/><circle cx="48" cy="296" r="2.3"/><circle cx="162" cy="472" r="2.2"/><circle cx="663" cy="326" r="2.0"/><circle cx="681" cy="74" r="2.2"/><circle cx="302" cy="104" r="2.6"/><circle cx="256" cy="587" r="3.1"/><circle cx="61" cy="154" r="2.7"/><circle cx="559" cy="173" r="2.1"/><circle cx="769" cy="582" r="2.2"/><circle cx="557" cy="603" r="2.7"/><circle cx="344" cy="582" r="2.5"/><circle cx="536" cy="564" r="1.7"/><circle cx="112" cy="78" r="2.0"/><circle cx="759" cy="456" r="2.2"/><circle cx="481" cy="295" r="2.4"/><circle cx="290" cy="577" r="2.8"/><circle cx="74" cy="393" r="3.1"/><circle cx="319" cy="114" r="1.7"/><circle cx="434" cy="256" r="2.5"/><circle cx="543" cy="292" r="2.6"/><circle cx="477" cy="371" r="2.4"/><circle cx="188" cy="198" r="2.7"/><circle cx="734" cy="101" r="1.7"/><circle cx="368" cy="586" r="3.0"/><circle cx="196" cy="396" r="1.7"/><circle cx="634" cy="80" r="3.1"/><circle cx="297" cy="220" r="2.1"/><circle cx="116" cy="247" r="1.9"/><circle cx="55" cy="312" r="2.9"/><circle cx="598" cy="355" r="1.8"/><circle cx="373" cy="188" r="2.3"/><circle cx="690" cy="153" r="2.5"/><circle cx="382" cy="296" r="1.7"/><circle cx="717" cy="558" r="1.9"/><circle cx="679" cy="304" r="3.0"/><circle cx="262" cy="73" r="3.2"/><circle cx="301" cy="64" r="2.0"/><circle cx="280" cy="523" r="3.1"/><circle cx="236" cy="111" r="1.8"/><circle cx="770" cy="315" r="1.8"/><circle cx="262" cy="338" r="2.6"/><circle cx="430" cy="489" r="2.3"/><circle cx="660" cy="437" r="2.6"/><circle cx="104" cy="224" r="2.0"/><circle cx="685" cy="545" r="2.7"/><circle cx="541" cy="119" r="1.6"/><circle cx="89" cy="299" r="2.1"/><circle cx="774" cy="96" r="2.6"/><circle cx="262" cy="146" r="2.9"/><circle cx="646" cy="317" r="2.4"/><circle cx="117" cy="389" r="2.8"/><circle cx="695" cy="516" r="2.9"/><circle cx="176" cy="574" r="1.7"/><circle cx="208" cy="356" r="2.7"/><circle cx="510" cy="397" r="2.7"/><circle cx="332" cy="65" r="2.1"/><circle cx="464" cy="456" r="2.2"/><circle cx="443" cy="534" r="2.6"/><circle cx="389" cy="274" r="1.8"/><circle cx="310" cy="605" r="2.4"/><circle cx="377" cy="422" r="2.0"/><circle cx="363" cy="182" r="2.4"/><circle cx="411" cy="502" r="2.8"/><circle cx="302" cy="614" r="2.5"/><circle cx="321" cy="134" r="1.6"/><circle cx="296" cy="396" r="2.0"/><circle cx="127" cy="315" r="1.8"/><circle cx="195" cy="329" r="2.8"/><circle cx="285" cy="439" r="2.1"/><circle cx="134" cy="501" r="2.6"/><circle cx="522" cy="472" r="2.4"/><circle cx="80" cy="127" r="2.5"/><circle cx="523" cy="61" r="2.8"/><circle cx="716" cy="389" r="3.0"/><circle cx="398" cy="477" r="1.6"/><circle cx="430" cy="474" r="2.9"/><circle cx="721" cy="276" r="1.7"/><circle cx="588" cy="612" r="3.1"/><circle cx="678" cy="53" r="2.7"/><circle cx="722" cy="215" r="2.6"/><circle cx="475" cy="262" r="3.1"/><circle cx="100" cy="140" r="2.8"/><circle cx="604" cy="319" r="3.0"/><circle cx="175" cy="184" r="1.7"/><circle cx="658" cy="215" r="2.6"/><circle cx="392" cy="355" r="2.0"/><circle cx="121" cy="505" r="2.3"/><circle cx="290" cy="354" r="1.7"/><circle cx="589" cy="236" r="2.1"/><circle cx="229" cy="65" r="2.8"/><circle cx="530" cy="506" r="2.4"/><circle cx="676" cy="275" r="2.5"/><circle cx="641" cy="217" r="2.4"/><circle cx="295" cy="72" r="3.1"/><circle cx="665" cy="493" r="1.6"/><circle cx="710" cy="114" r="3.1"/><circle cx="308" cy="50" r="2.8"/><circle cx="49" cy="518" r="1.8"/><circle cx="651" cy="66" r="1.8"/><circle cx="545" cy="393" r="2.8"/><circle cx="124" cy="367" r="3.0"/><circle cx="639" cy="533" r="2.7"/><circle cx="643" cy="335" r="2.4"/><circle cx="483" cy="515" r="1.9"/><circle cx="236" cy="523" r="2.0"/><circle cx="120" cy="503" r="3.2"/><circle cx="127" cy="63" r="2.4"/><circle cx="459" cy="418" r="2.6"/><circle cx="394" cy="100" r="2.2"/><circle cx="385" cy="613" r="2.4"/><circle cx="516" cy="421" r="2.6"/><circle cx="534" cy="104" r="2.0"/><circle cx="181" cy="289" r="2.1"/><circle cx="699" cy="94" r="1.7"/><circle cx="587" cy="76" r="1.7"/><circle cx="225" cy="267" r="2.4"/><circle cx="472" cy="475" r="3.1"/><circle cx="224" cy="302" r="2.2"/><circle cx="170" cy="365" r="3.0"/><circle cx="196" cy="133" r="1.7"/><circle cx="331" cy="620" r="2.6"/><circle cx="117" cy="602" r="1.9"/><circle cx="366" cy="386" r="3.2"/><circle cx="684" cy="240" r="3.1"/><circle cx="475" cy="515" r="2.1"/><circle cx="503" cy="460" r="3.2"/><circle cx="665" cy="388" r="1.7"/><circle cx="571" cy="112" r="3.1"/><circle cx="744" cy="542" r="1.8"/><circle cx="481" cy="408" r="2.9"/><circle cx="676" cy="114" r="1.9"/><circle cx="33" cy="610" r="2.4"/><circle cx="477" cy="544" r="1.9"/><circle cx="275" cy="418" r="2.1"/><circle cx="586" cy="275" r="2.5"/><circle cx="442" cy="260" r="3.2"/><circle cx="648" cy="204" r="2.5"/><circle cx="483" cy="175" r="1.9"/><circle cx="346" cy="381" r="2.9"/><circle cx="442" cy="329" r="2.3"/><circle cx="59" cy="222" r="2.8"/><circle cx="512" cy="89" r="3.0"/><circle cx="689" cy="534" r="2.8"/><circle cx="276" cy="193" r="2.2"/><circle cx="343" cy="71" r="1.9"/><circle cx="545" cy="531" r="1.7"/><circle cx="161" cy="180" r="2.9"/><circle cx="386" cy="210" r="2.6"/><circle cx="578" cy="374" r="2.5"/><circle cx="628" cy="359" r="2.6"/><circle cx="349" cy="543" r="3.1"/><circle cx="451" cy="396" r="3.0"/><circle cx="117" cy="242" r="2.1"/><circle cx="471" cy="491" r="2.5"/><circle cx="452" cy="491" r="2.2"/><circle cx="531" cy="486" r="2.3"/><circle cx="597" cy="50" r="2.6"/><circle cx="575" cy="443" r="1.8"/><circle cx="419" cy="409" r="2.7"/><circle cx="742" cy="105" r="1.9"/><circle cx="530" cy="64" r="2.3"/><circle cx="67" cy="407" r="2.6"/><circle cx="110" cy="124" r="2.1"/><circle cx="262" cy="324" r="2.5"/><circle cx="276" cy="52" r="1.7"/><circle cx="672" cy="150" r="3.1"/><circle cx="349" cy="139" r="2.5"/><circle cx="87" cy="183" r="2.5"/><circle cx="306" cy="88" r="2.6"/><circle cx="219" cy="598" r="1.9"/><circle cx="156" cy="205" r="2.9"/><circle cx="687" cy="508" r="2.0"/><circle cx="329" cy="353" r="2.4"/><circle cx="730" cy="490" r="2.4"/><circle cx="137" cy="618" r="3.2"/><circle cx="646" cy="476" r="2.8"/><circle cx="734" cy="476" r="2.5"/><circle cx="437" cy="394" r="1.7"/><circle cx="493" cy="97" r="3.0"/><circle cx="110" cy="202" r="2.8"/><circle cx="146" cy="151" r="2.4"/><circle cx="734" cy="606" r="1.7"/><circle cx="43" cy="140" r="2.9"/><circle cx="516" cy="526" r="2.4"/><circle cx="351" cy="522" r="2.2"/><circle cx="646" cy="376" r="1.8"/><circle cx="51" cy="321" r="2.1"/><circle cx="768" cy="68" r="2.4"/><circle cx="590" cy="223" r="2.7"/><circle cx="319" cy="168" r="1.7"/><circle cx="471" cy="429" r="2.5"/><circle cx="283" cy="98" r="1.9"/><circle cx="682" cy="261" r="2.6"/><circle cx="158" cy="180" r="1.7"/><circle cx="772" cy="193" r="2.3"/><circle cx="150" cy="295" r="3.2"/><circle cx="316" cy="43" r="2.3"/><circle cx="487" cy="238" r="1.7"/><circle cx="540" cy="293" r="3.0"/><circle cx="759" cy="394" r="2.8"/><circle cx="585" cy="84" r="2.6"/><circle cx="608" cy="495" r="2.5"/><circle cx="588" cy="506" r="2.9"/><circle cx="202" cy="611" r="3.0"/><circle cx="100" cy="213" r="1.7"/><circle cx="424" cy="124" r="2.3"/><circle cx="296" cy="377" r="2.1"/><circle cx="113" cy="41" r="3.0"/><circle cx="317" cy="412" r="1.7"/><circle cx="82" cy="350" r="2.6"/><circle cx="726" cy="194" r="3.0"/><circle cx="759" cy="257" r="2.5"/><circle cx="96" cy="428" r="2.9"/><circle cx="653" cy="392" r="2.1"/><circle cx="135" cy="287" r="2.6"/><circle cx="59" cy="229" r="3.0"/><circle cx="481" cy="573" r="1.8"/><circle cx="411" cy="180" r="2.6"/><circle cx="756" cy="409" r="3.1"/><circle cx="602" cy="160" r="2.9"/><circle cx="535" cy="426" r="3.1"/><circle cx="128" cy="485" r="3.0"/><circle cx="33" cy="377" r="2.4"/><circle cx="363" cy="228" r="1.8"/><circle cx="426" cy="539" r="2.9"/><circle cx="43" cy="377" r="2.2"/><circle cx="699" cy="510" r="2.2"/><circle cx="229" cy="57" r="2.3"/><circle cx="156" cy="489" r="2.4"/><circle cx="410" cy="93" r="1.8"/><circle cx="173" cy="134" r="1.8"/><circle cx="276" cy="355" r="2.4"/><circle cx="343" cy="333" r="1.7"/><circle cx="336" cy="423" r="1.6"/><circle cx="529" cy="571" r="3.2"/><circle cx="756" cy="224" r="2.1"/><circle cx="92" cy="76" r="2.7"/><circle cx="392" cy="65" r="2.8"/><circle cx="663" cy="408" r="2.2"/><circle cx="282" cy="67" r="2.0"/><circle cx="771" cy="533" r="1.9"/><circle cx="674" cy="53" r="1.9"/><circle cx="310" cy="143" r="2.9"/><circle cx="621" cy="489" r="2.6"/><circle cx="511" cy="576" r="2.9"/><circle cx="532" cy="620" r="1.6"/><circle cx="355" cy="339" r="2.8"/><circle cx="131" cy="303" r="2.5"/><circle cx="496" cy="495" r="2.3"/><circle cx="751" cy="146" r="3.0"/><circle cx="466" cy="489" r="3.0"/><circle cx="658" cy="543" r="2.3"/><circle cx="179" cy="290" r="2.4"/><circle cx="436" cy="439" r="3.1"/><circle cx="64" cy="118" r="2.0"/><circle cx="306" cy="244" r="1.6"/><circle cx="171" cy="161" r="2.5"/><circle cx="255" cy="530" r="1.6"/><circle cx="560" cy="250" r="2.9"/><circle cx="199" cy="579" r="1.9"/><circle cx="144" cy="560" r="2.7"/><circle cx="607" cy="296" r="3.1"/><circle cx="709" cy="516" r="2.9"/><circle cx="729" cy="129" r="2.9"/><circle cx="147" cy="424" r="2.0"/><circle cx="325" cy="197" r="1.8"/><circle cx="426" cy="547" r="2.2"/><circle cx="166" cy="508" r="2.0"/><circle cx="107" cy="69" r="2.7"/><circle cx="750" cy="439" r="2.5"/><circle cx="561" cy="476" r="3.2"/><circle cx="507" cy="128" r="3.2"/><circle cx="545" cy="270" r="3.0"/><circle cx="700" cy="268" r="2.3"/><circle cx="147" cy="590" r="2.7"/><circle cx="522" cy="166" r="2.8"/><circle cx="740" cy="542" r="2.3"/><circle cx="95" cy="414" r="1.7"/><circle cx="352" cy="282" r="3.1"/><circle cx="590" cy="111" r="2.5"/><circle cx="517" cy="182" r="2.5"/><circle cx="68" cy="465" r="2.5"/><circle cx="719" cy="567" r="2.1"/><circle cx="71" cy="423" r="2.7"/><circle cx="585" cy="224" r="2.3"/><circle cx="635" cy="389" r="2.0"/><circle cx="116" cy="453" r="2.1"/><circle cx="731" cy="527" r="2.3"/><circle cx="191" cy="54" r="2.5"/><circle cx="569" cy="93" r="2.3"/><circle cx="310" cy="314" r="2.6"/><circle cx="370" cy="443" r="2.0"/><circle cx="581" cy="319" r="2.5"/><circle cx="493" cy="563" r="3.2"/><circle cx="41" cy="451" r="2.5"/><circle cx="510" cy="176" r="2.3"/><circle cx="343" cy="277" r="3.1"/><circle cx="257" cy="300" r="1.7"/><circle cx="279" cy="185" r="2.2"/><circle cx="149" cy="210" r="2.1"/><circle cx="377" cy="311" r="2.6"/><circle cx="511" cy="315" r="2.3"/><circle cx="417" cy="419" r="2.2"/><circle cx="770" cy="508" r="3.0"/><circle cx="137" cy="167" r="2.6"/><circle cx="681" cy="301" r="2.9"/></g>
</g>
</g>
<g filter="url(#f2blur)" fill="none" stroke-linecap="round">
<path d="M212 226 C260 228 310 240 370 282 C400 300 440 308 475 305 C520 300 560 280 592 258" stroke="#B8866A" stroke-width="5" opacity="0.8"/>
<path d="M215 232 C262 236 310 248 370 290 C400 308 440 316 478 312" stroke="#4A3022" stroke-width="4" opacity="0.6"/>
<path d="M590 258 L662 378" stroke="#5A4030" stroke-width="4" opacity="0.7"/>
<path d="M660 380 C630 388 580 384 545 372" stroke="#3A2018" stroke-width="5" opacity="0.7"/>
<path d="M160 205 C150 215 152 232 162 240" stroke="#1c120c" stroke-width="8" opacity="0.9"/>
<path d="M175 120 L190 152 M250 100 L262 150 M330 92 L336 158" stroke="#5A3A26" stroke-width="9" opacity="0.55"/>
<path d="M110 250 L150 235 M150 320 L195 300 M195 390 L240 370" stroke="#5E3C28" stroke-width="9" opacity="0.5"/>
<path d="M50 290 L85 300 M42 350 L75 362" stroke="#5E3C28" stroke-width="8" opacity="0.5"/>
<path d="M330 470 L370 455 M365 520 L400 500" stroke="#5A3A2A" stroke-width="8" opacity="0.5"/>
<path d="M95 225 C130 250 170 300 200 350" stroke="#D6A882" stroke-width="6" opacity="0.5"/>
<path d="M62 240 C50 280 44 320 42 360" stroke="#D6B090" stroke-width="5" opacity="0.5"/>
<path d="M150 125 C220 100 320 88 395 100" stroke="#C89870" stroke-width="5" opacity="0.45"/>
</g>
<g filter="url(#f2blur)">
<circle cx="510" cy="358" r="29" fill="#3A2A1A"/>
<circle cx="510" cy="358" r="22" fill="#5E4E2C"/>
<ellipse cx="510" cy="361" rx="19" ry="16" fill="#17100A"/>
<path d="M488 346 C498 336 522 336 532 346" stroke="#C8B878" stroke-width="3" fill="none" opacity="0.7"/>
<ellipse cx="636" cy="282" rx="9" ry="16" transform="rotate(-20 636 282)" fill="#1A120C"/>
</g>
<g fill="#E8DCCB" opacity="0.8">
<circle cx="470" cy="425" r="3"/><circle cx="495" cy="423" r="3"/><circle cx="520" cy="420" r="3"/><circle cx="548" cy="416" r="3"/><circle cx="575" cy="410" r="3"/>
</g>
</g>
<line x1="138.8" y1="27.35" x2="190" y2="27.35" stroke="#D7261A" stroke-width="5.7" />
<line x1="138.8" y1="75.95" x2="190" y2="75.95" stroke="#2A9673" stroke-width="5.8" />
<line x1="138.8" y1="127.95" x2="190" y2="127.95" stroke="#F5A10E" stroke-width="5.7" />
<line x1="138.8" y1="180.15" x2="190" y2="180.15" stroke="#3B3838" stroke-width="5.7" stroke-dasharray="5.4 4.63" stroke-dashoffset="2.2"/>
<text x="201" y="38.3" font-size="39.8" textLength="145" lengthAdjust="spacingAndGlyphs"><tspan font-style="italic">Bd</tspan>-GPL</text>
<text x="201" y="89.5" font-size="39.8" textLength="165.5" lengthAdjust="spacingAndGlyphs"><tspan font-style="italic">Bd</tspan>-Brazil</text>
<text x="199" y="139.5" font-size="39.8" textLength="119.5" lengthAdjust="spacingAndGlyphs">Hybrid</text>
<text x="199.5" y="191.4" font-size="39.8" textLength="350" lengthAdjust="spacingAndGlyphs">Unexposed Control</text>
<text x="2.5" y="218.4" font-size="48">(a)</text>
<text x="4" y="802.8" font-size="48">(b)</text>
<text transform="translate(47.4,574.5) rotate(-90)" font-size="41.6" textLength="220" lengthAdjust="spacingAndGlyphs">Survival (%)</text>
<text transform="translate(47.4,1149.2) rotate(-90)" font-size="41.6" textLength="220" lengthAdjust="spacingAndGlyphs">Survival (%)</text>
<text x="261.3" y="1367.5" font-size="40.5" textLength="390" lengthAdjust="spacingAndGlyphs">Days post inoculation</text>
<text x="173.5" y="656.3" font-size="40" font-weight="bold" font-style="italic" style="fill:#8C2A1C;stroke:#8C2A1C;stroke-width:0.6px" textLength="232" lengthAdjust="spacing">B. ephippium</text>
<text x="198" y="1252.4" font-size="40.5" font-weight="bold" font-style="italic" style="fill:#8C2A1C;stroke:#8C2A1C;stroke-width:0.6px" textLength="21" lengthAdjust="spacingAndGlyphs">I.</text><text x="230.3" y="1252.4" font-size="40.5" font-weight="bold" font-style="italic" style="fill:#8C2A1C;stroke:#8C2A1C;stroke-width:0.6px" textLength="98.7" lengthAdjust="spacingAndGlyphs">parva</text>
<rect x="120.30000000000001" y="234.2" width="10" height="5" fill="#BFBFBF"/>
<text x="115.3" y="250.2" font-size="33.8" text-anchor="end">1.0</text>
<rect x="120.30000000000001" y="324.0" width="9" height="5" fill="#BFBFBF"/>
<text x="115.3" y="339.7" font-size="33.8" text-anchor="end">0.8</text>
<rect x="120.30000000000001" y="413.8" width="9" height="5" fill="#BFBFBF"/>
<text x="115.3" y="429.3" font-size="33.8" text-anchor="end">0.6</text>
<rect x="120.30000000000001" y="503.7" width="9" height="5" fill="#BFBFBF"/>
<text x="115.3" y="518.2" font-size="33.8" text-anchor="end">0.4</text>
<rect x="120.30000000000001" y="593.3" width="9" height="5" fill="#BFBFBF"/>
<text x="115.3" y="607.7" font-size="33.8" text-anchor="end">0.2</text>
<rect x="120.30000000000001" y="683.1" width="9" height="5" fill="#BFBFBF"/>
<text x="115.3" y="697" font-size="33.8" text-anchor="end">0.0</text>
<rect x="126.30000000000001" y="279.20000000000005" width="3" height="4.8" fill="#BFBFBF"/>
<rect x="126.30000000000001" y="369.0" width="3" height="4.8" fill="#BFBFBF"/>
<rect x="126.30000000000001" y="458.85" width="3" height="4.8" fill="#BFBFBF"/>
<rect x="126.30000000000001" y="548.6" width="3" height="4.8" fill="#BFBFBF"/>
<rect x="126.30000000000001" y="638.3000000000001" width="3" height="4.8" fill="#BFBFBF"/>
<rect x="129.9" y="687.9" width="5.2" height="10.5" fill="#BFBFBF"/>
<rect x="283.7" y="687.9" width="5.2" height="11" fill="#BFBFBF"/>
<rect x="435.09999999999997" y="687.9" width="5.2" height="9" fill="#BFBFBF"/>
<rect x="587.6999999999999" y="687.9" width="5.2" height="9" fill="#BFBFBF"/>
<rect x="747.8" y="687.9" width="5.2" height="9" fill="#BFBFBF"/>
<rect x="207.0" y="687.9" width="4.8" height="3.4" fill="#BFBFBF"/>
<rect x="359.0" y="687.9" width="4.8" height="3.4" fill="#BFBFBF"/>
<rect x="511.6" y="687.9" width="4.8" height="3.4" fill="#BFBFBF"/>
<rect x="667.1" y="687.9" width="4.8" height="3.4" fill="#BFBFBF"/>
<rect x="129.3" y="236.5" width="5.599999999999994" height="451.5" fill="#50565A"/>
<rect x="129.3" y="682.8" width="662.5" height="5.2" fill="#50565A"/>
<text x="134" y="729.2" font-size="33.2" text-anchor="middle">0</text>
<text x="284.6" y="734.2" font-size="33.2" text-anchor="middle">10</text>
<text x="437.5" y="734.2" font-size="33.2" text-anchor="middle">20</text>
<text x="589.7" y="734.2" font-size="33.2" text-anchor="middle">30</text>
<text x="748.7" y="734.2" font-size="33.2" text-anchor="middle">40</text>
<path d="M134 239.75 L672.75 239.75 L672.75 289.4 L688.25 289.4 L688.25 339.05 L750.75 339.05" fill="none" stroke="#2A9673" stroke-width="5.6" stroke-linejoin="miter" stroke-linecap="butt"/>
<path d="M134 239.75 L532.1 239.75 L532.1 289.4 L579 289.4 L579 339.05 L594.75 339.05 L594.75 388.7 L672.75 388.7 L672.75 438.35 L704 438.35 L704 537.65 L750.75 537.65" fill="none" stroke="#D7261A" stroke-width="5.6" stroke-linejoin="miter" stroke-linecap="butt"/>
<path d="M134 239.75 L422.75 239.75 L422.75 289.4 L438.5 289.4 L438.5 388.7 L516.5 388.7 L516.5 438.35 L532 438.35 L532 537.65 L547.7 537.65 L547.7 587.3 L625.7 587.3 L625.7 636.95 L656.8 636.95 L656.8 686.8" fill="none" stroke="#F5A10E" stroke-width="5.6" stroke-linejoin="miter" stroke-linecap="butt"/>
<line x1="129.3" y1="239.75" x2="750.75" y2="239.75" stroke="#3B3838" stroke-width="5.6" stroke-dasharray="7 7.727" stroke-dashoffset="0.8"/>
<rect x="121.4" y="823.6" width="10" height="5" fill="#BFBFBF"/>
<text x="118.6" y="837.5" font-size="33.8" text-anchor="end">1.0</text>
<rect x="121.4" y="913.0" width="9" height="5" fill="#BFBFBF"/>
<text x="118.6" y="927.2" font-size="33.8" text-anchor="end">0.8</text>
<rect x="121.4" y="1002.4" width="9" height="5" fill="#BFBFBF"/>
<text x="118.6" y="1016.5" font-size="33.8" text-anchor="end">0.6</text>
<rect x="121.4" y="1091.8" width="9" height="5" fill="#BFBFBF"/>
<text x="118.6" y="1106.2" font-size="33.8" text-anchor="end">0.4</text>
<rect x="121.4" y="1181.1" width="9" height="5" fill="#BFBFBF"/>
<text x="118.6" y="1195.8" font-size="33.8" text-anchor="end">0.2</text>
<rect x="121.4" y="1270.4" width="9" height="5" fill="#BFBFBF"/>
<text x="118.6" y="1284.4" font-size="33.8" text-anchor="end">0.0</text>
<rect x="127.4" y="868.4" width="3" height="4.8" fill="#BFBFBF"/>
<rect x="127.4" y="957.8000000000001" width="3" height="4.8" fill="#BFBFBF"/>
<rect x="127.4" y="1047.1999999999998" width="3" height="4.8" fill="#BFBFBF"/>
<rect x="127.4" y="1136.5499999999997" width="3" height="4.8" fill="#BFBFBF"/>
<rect x="127.4" y="1225.85" width="3" height="4.8" fill="#BFBFBF"/>
<rect x="130.70000000000002" y="1276.4" width="5.2" height="7.5" fill="#BFBFBF"/>
<rect x="233.20000000000002" y="1276.4" width="5.2" height="7.5" fill="#BFBFBF"/>
<rect x="335.59999999999997" y="1276.4" width="5.2" height="7.5" fill="#BFBFBF"/>
<rect x="437.0" y="1276.4" width="5.2" height="7.5" fill="#BFBFBF"/>
<rect x="538.9" y="1276.4" width="5.2" height="7.5" fill="#BFBFBF"/>
<rect x="641.1" y="1276.4" width="5.2" height="7.5" fill="#BFBFBF"/>
<rect x="743.4" y="1276.4" width="5.2" height="7.5" fill="#BFBFBF"/>
<rect x="182.1" y="1276.4" width="4.8" height="2.4" fill="#BFBFBF"/>
<rect x="283.6" y="1276.4" width="4.8" height="2.4" fill="#BFBFBF"/>
<rect x="386.6" y="1276.4" width="4.8" height="2.4" fill="#BFBFBF"/>
<rect x="488.1" y="1276.4" width="4.8" height="2.4" fill="#BFBFBF"/>
<rect x="590.1" y="1276.4" width="4.8" height="2.4" fill="#BFBFBF"/>
<rect x="692.6" y="1276.4" width="4.8" height="2.4" fill="#BFBFBF"/>
<rect x="130.4" y="824.6" width="5.599999999999994" height="451.9" fill="#50565A"/>
<rect x="130.4" y="1271.3000000000002" width="662.1" height="5.2" fill="#50565A"/>
<text x="132.4" y="1312.6" font-size="33.2" text-anchor="middle">0</text>
<text x="233.5" y="1316" font-size="33.2" text-anchor="middle">10</text>
<text x="337" y="1316" font-size="33.2" text-anchor="middle">20</text>
<text x="437.5" y="1316" font-size="33.2" text-anchor="middle">30</text>
<text x="540.5" y="1316" font-size="33.2" text-anchor="middle">40</text>
<text x="643.7" y="1316" font-size="33.2" text-anchor="middle">50</text>
<text x="748" y="1316" font-size="33.2" text-anchor="middle">60</text>
<path d="M135 826.6 L662.4 826.6 L662.4 915.92 L682.8 915.92 L682.8 1005.24 L723.5 1005.24" fill="none" stroke="#2A9673" stroke-width="5.6" stroke-linejoin="miter" stroke-linecap="butt"/>
<path d="M135 826.6 L448.4 826.6 L448.4 890.4000000000001 L509.6 890.4000000000001 L509.6 954.2 L519.6 954.2 L519.6 1018.0 L529.7 1018.0 L529.7 1145.6 L570.6 1145.6 L570.6 1209.4 L723.5 1209.4" fill="none" stroke="#F5A10E" stroke-width="5.6" stroke-linejoin="miter" stroke-linecap="butt"/>
<path d="M135 826.6 L315.9 826.6 L315.9 901.0333333333333 L336.3 901.0333333333333 L336.3 1049.9 L356.6 1049.9 L356.6 1124.3333333333335 L397.1 1124.3333333333335 L397.1 1198.7666666666667 L407.1 1198.7666666666667 L407.1 1274.5" fill="none" stroke="#D7261A" stroke-width="5.6" stroke-linejoin="miter" stroke-linecap="butt"/>
<line x1="130.4" y1="826.6" x2="723.4" y2="826.6" stroke="#3B3838" stroke-width="5.6" stroke-dasharray="7 7.79" stroke-dashoffset="2.2"/>
</g>
</svg></body></html>
